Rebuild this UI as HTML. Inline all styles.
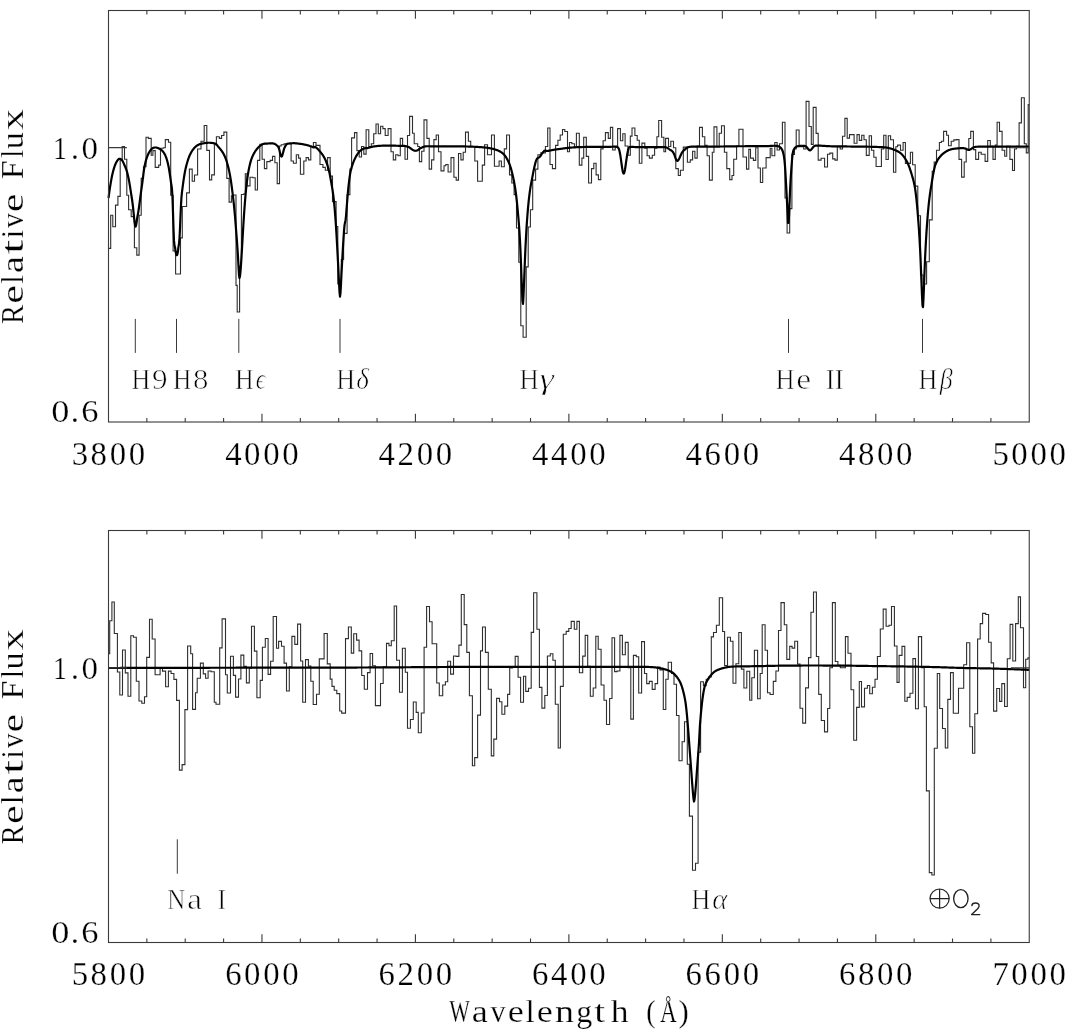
<!DOCTYPE html>
<html><head><meta charset="utf-8"><style>html,body{margin:0;padding:0;background:#fff;}svg{display:block;will-change:transform;}</style></head>
<body><svg width="1072" height="1036" viewBox="0 0 1072 1036">
<rect width="100%" height="100%" fill="#fff"/>
<path d="M108.5 248.4H110.7V215.3H112.8V226.8H115.5V205.1H117.9V196.4H120.2V160.0H122.2V146.5H124.5V159.3H126.8V195.2H128.6V209.7H131.2V216.6H134.4V247.7H136.8V255.1H139.1V215.3H141.2V178.4H143.5V166.8H146.0V137.3H148.3V138.4H151.2V155.2H152.9V150.6H155.2V167.4H158.7V165.1H160.5V148.3H163.3V147.7H165.3V139.6H168.5V142.3H170.7V195.2H173.1V251.0H175.6V274.0H180.5V237.9H182.3V206.5H186.6V192.9H189.4V169.1H192.2V181.3H194.5V175.0H197.6V149.0H201.0V141.2H204.2V125.5H206.8V150.4H209.5V179.9H211.7V174.9H214.4V144.8H216.4V136.7H219.3V138.4H221.6V135.5H223.9V132.1H226.8V178.4H229.1V202.1H231.4V195.8H233.7V195.0H236.0V285.4H237.2V312.0H239.6V266.3H241.4V194.5H243.6V194.0H245.3V173.8H247.1V185.9H250.0V177.2H252.9V177.8H255.2V190.0H257.5V160.4H259.8V144.2H262.1V159.3H264.4V168.6H266.8V161.6H270.2V160.4H272.5V156.4H274.9V162.8H277.2V183.6H279.5V146.0H281.2V144.8H284.1V143.7H291.1V161.0H293.4V163.3H296.3V154.7H298.6V158.1H300.4V174.3H303.8V161.0H306.1V157.6H308.5V159.9H310.8V146.5H313.4V142.5H316.0V145.4H320.0V164.5H322.9V167.4H325.3V170.3H327.6V157.6H330.2V176.1H332.5V201.6H336.1V226.5H337.8V284.0H341.3V259.5H343.6V233.4H347.1V194.6H349.9V169.1H351.6V137.9H354.5V132.6H356.9V150.6H359.2V157.0H361.5V146.5H363.8V154.1H366.1V129.8H368.8V146.5H371.3V143.7H373.7V133.8H376.0V124.0H378.3V133.8H380.6V126.3H382.9V128.6H385.2V135.5H388.1V128.6H391.0V151.8H393.3V159.9H395.7V154.7H398.0V155.8H400.3V138.4H402.6V146.0H405.0V159.3H407.5V135.5H409.6V116.4H412.5V133.2H414.2V143.7H417.7V146.5H419.4V161.6H421.7V151.2H424.0V119.9H426.9V138.4H429.2V169.1H431.6V159.9H433.9V139.6H436.2V135.0H438.5V151.8H441.0V170.9H444.0V165.7H445.8V164.5H448.1V172.0H451.0V157.6H453.9V177.2H456.2V180.1H458.5V153.5H460.9V159.9H463.2V152.3H465.5V132.1H468.4V141.3H470.7V146.5H474.8V161.0H477.6V181.3H482.3V165.1H484.6V144.8H487.5V154.7H491.5V135.0H494.4V166.2H499.1V161.0H501.4V166.8H504.3V148.9H506.6V135.0H509.5V174.9H511.8V183.0H514.1V194.6H516.5V228.0H518.8V262.2H520.8V325.7H523.1V337.2H526.2V266.9H528.2V227.0H530.4V209.7H532.7V180.1H535.6V169.1H537.9V154.7H540.8V152.9H545.4V146.5H547.7V128.0H550.0V164.5H552.4V168.6H555.6V145.4H557.9V140.2H560.2V135.0H562.5V129.5H564.8V131.5H567.5V151.8H569.5V142.5H571.8V143.7H574.5V147.1H576.4V133.2H579.3V165.1H581.9V158.1H583.7V137.3H586.3V156.4H588.6V183.0H591.5V168.6H593.8V163.3H596.1V174.9H598.4V179.6H600.8V148.9H603.1V140.8H605.4V132.6H608.3V138.4H610.4V127.4H612.7V150.0H615.2V147.1H617.6V128.6H620.4V140.8H622.8V133.8H625.1V146.0H628.0V155.2H630.3V136.1H632.0V128.0H634.9V135.5H637.2V140.2H639.3V163.3H641.9V143.1H644.8V148.3H647.1V155.8H649.4V158.1H652.3V155.2H654.6V148.3H656.9V136.7H658.7V120.5H661.6V137.3H663.9V151.8H665.6V138.4H668.5V146.5H670.8V141.3H673.5V147.7H675.8V168.6H678.3V175.5H680.4V170.3H683.3V147.1H687.4V162.2H690.3V159.9H692.6V151.2H694.9V158.1H697.2V146.0H699.5V127.4H702.4V136.7H704.8V145.4H707.1V155.8H709.4V180.1H712.3V152.3H714.0V126.9H716.9V146.5H719.2V133.2H721.5V125.7H724.4V152.3H726.8V168.6H729.7V179.6H732.0V175.5H733.7V159.3H736.6V146.0H738.9V129.2H743.0V157.0H746.5V169.1H748.8V149.4H750.5V158.1H753.4V160.4H755.7V147.7H758.0V168.0H760.4V182.5H762.7V168.0H766.1V157.6H770.2V148.3H771.9V155.8H774.8V142.5H777.1V150.0H779.5V143.7H782.4V122.3H785.0V198.0H787.1V233.0H789.7V208.6H791.9V154.4H794.5V149.0H796.2V130.0H799.1V146.8H803.7V149.0H806.1V101.4H809.0V126.5H811.3V144.4H813.2V107.4H816.1V133.4H818.2V160.1H821.1V158.3H824.6V167.0H827.5V154.3H829.8V153.1H832.7V158.9H835.0V160.1H837.3V146.8H840.2V149.0H842.5V136.3H844.9V118.4H847.2V138.1H849.5V134.6H854.1V143.3H857.0V134.6H859.3V140.4H861.7V135.2H864.0V139.8H866.3V155.4H869.2V135.8H871.5V150.2H873.8V157.2H876.1V166.5H881.4V149.0H883.7V135.2H886.0V159.5H888.3V135.8H890.6V139.8H893.5V172.2H895.8V146.8H897.6V145.1H900.5V150.3H903.1V142.5H905.4V163.4H910.4V152.3H912.6V164.7H915.2V186.1H917.8V215.8H920.5V275.0H923.2V284.0H926.6V261.8H929.3V219.9H932.2V171.2H934.2V162.0H936.5V150.3H939.4V142.5H941.4V141.2H943.6V131.4H946.6V135.3H948.5V145.7H951.2V141.2H953.8V139.9H956.4V139.6H959.0V159.4H961.6V177.1H964.2V162.0H966.2V149.6H968.8V138.5H970.7V131.4H973.4V149.6H975.7V159.4H978.6V152.3H981.2V154.2H985.1V161.4H987.7V140.5H990.3V146.4H993.0V159.4H995.3V145.1H997.1V122.2H999.5V131.4H1002.1V150.3H1004.7V156.2H1006.7V146.4H1009.9V159.4H1012.5V170.5H1014.5V149.0H1016.5V146.4H1019.1V122.9H1021.4V97.8H1024.3V143.8H1026.3V152.9H1028.2V104.6H1029.2" fill="none" stroke="#2e2e2e" stroke-width="1.1"/>
<path d="M108.5 198.00 109.0 194.35 109.5 190.71 110.0 187.30 110.5 184.23 111.0 181.38 111.5 178.60 112.0 176.04 112.5 173.74 113.0 171.68 113.5 169.85 114.0 168.17 114.5 166.62 115.0 165.22 115.5 163.98 116.0 162.89 116.5 161.96 117.0 161.12 117.5 160.37 118.0 159.74 118.5 159.25 119.0 158.92 119.5 158.76 120.0 158.78 120.5 158.96 121.0 159.27 121.5 159.70 122.0 160.21 122.5 160.93 123.0 161.86 123.5 162.93 124.0 164.08 124.5 165.26 125.0 166.38 125.5 167.50 126.0 168.76 126.5 170.19 127.0 171.81 127.5 173.64 128.0 175.70 128.5 178.02 129.0 180.56 129.5 183.36 130.0 186.40 130.5 189.70 131.0 192.94 131.5 196.02 132.0 199.23 132.5 202.80 133.0 206.96 133.5 211.88 134.0 216.97 134.5 221.54 135.0 224.94 135.5 226.60 136.0 225.71 136.5 222.86 137.0 219.27 137.5 216.29 138.0 213.58 138.5 210.57 139.0 207.26 139.5 203.63 140.0 199.72 140.5 195.88 141.0 192.19 141.5 188.60 142.0 185.02 142.5 181.27 143.0 177.26 143.5 173.27 144.0 169.59 144.5 166.51 145.0 164.15 145.5 162.10 146.0 160.27 146.5 158.63 147.0 157.16 147.5 155.85 148.0 154.66 148.5 153.59 149.0 152.62 149.5 151.75 150.0 150.97 150.5 150.27 151.0 149.65 151.5 149.10 152.0 148.64 152.5 148.27 153.0 148.00 153.5 147.79 154.0 147.66 154.5 147.57 155.0 147.52 155.5 147.50 156.0 147.51 156.5 147.59 157.0 147.72 157.5 147.89 158.0 148.10 158.5 148.34 159.0 148.60 159.5 148.87 160.0 149.14 160.5 149.41 161.0 149.72 161.5 150.09 162.0 150.52 162.5 151.02 163.0 151.60 163.5 152.26 164.0 153.01 164.5 153.86 165.0 154.80 165.5 155.87 166.0 157.09 166.5 158.49 167.0 160.08 167.5 161.90 168.0 163.97 168.5 166.32 169.0 169.00 169.5 171.99 170.0 175.28 170.5 178.93 171.0 182.57 171.5 185.49 172.0 189.62 172.5 197.92 173.0 212.60 173.5 228.77 174.0 240.90 174.5 245.62 175.0 247.14 175.5 250.55 176.0 253.62 176.5 255.07 177.0 255.13 177.5 253.86 178.0 250.70 178.5 246.61 179.0 243.71 179.5 238.30 180.0 228.25 180.5 216.17 181.0 204.88 181.5 196.88 182.0 191.85 182.5 188.17 183.0 184.39 183.5 180.64 184.0 177.30 184.5 174.29 185.0 171.53 185.5 169.11 186.0 166.97 186.5 165.03 187.0 163.20 187.5 161.46 188.0 159.85 188.5 158.37 189.0 157.01 189.5 155.78 190.0 154.67 190.5 153.65 191.0 152.71 191.5 151.83 192.0 151.01 192.5 150.25 193.0 149.56 193.5 148.92 194.0 148.33 194.5 147.78 195.0 147.26 195.5 146.78 196.0 146.33 196.5 145.92 197.0 145.56 197.5 145.23 198.0 144.95 198.5 144.70 199.0 144.48 199.5 144.29 200.0 144.11 200.5 143.96 201.0 143.82 201.5 143.70 202.0 143.59 202.5 143.49 203.0 143.40 203.5 143.31 204.0 143.23 204.5 143.15 205.0 143.08 205.5 143.01 206.0 142.95 206.5 142.89 207.0 142.84 207.5 142.80 208.0 142.77 208.5 142.75 209.0 142.74 209.5 142.75 210.0 142.77 210.5 142.80 211.0 142.84 211.5 142.89 212.0 142.94 212.5 143.01 213.0 143.09 213.5 143.19 214.0 143.31 214.5 143.45 215.0 143.63 215.5 143.85 216.0 144.10 216.5 144.49 217.0 145.05 217.5 145.71 218.0 146.38 218.5 147.00 219.0 147.57 219.5 148.14 220.0 148.73 220.5 149.33 221.0 149.97 221.5 150.63 222.0 151.34 222.5 152.10 223.0 152.91 223.5 153.78 224.0 154.73 224.5 155.76 225.0 156.89 225.5 158.12 226.0 159.47 226.5 160.94 227.0 162.53 227.5 164.25 228.0 166.11 228.5 168.13 229.0 170.31 229.5 172.67 230.0 175.31 230.5 178.21 231.0 181.38 231.5 184.82 232.0 188.53 232.5 192.52 233.0 196.67 233.5 201.02 234.0 205.68 234.5 210.78 235.0 216.39 235.5 222.60 236.0 228.97 236.5 235.29 237.0 241.90 237.5 248.99 238.0 256.85 238.5 266.42 239.0 274.74 239.5 278.02 240.0 276.09 240.5 271.35 241.0 264.69 241.5 256.83 242.0 248.35 242.5 239.57 243.0 230.88 243.5 222.59 244.0 214.90 244.5 207.83 245.0 201.30 245.5 195.35 246.0 189.96 246.5 185.14 247.0 180.88 247.5 177.17 248.0 173.96 248.5 171.07 249.0 168.47 249.5 166.13 250.0 164.01 250.5 162.10 251.0 160.39 251.5 158.88 252.0 157.54 252.5 156.34 253.0 155.26 253.5 154.28 254.0 153.37 254.5 152.52 255.0 151.70 255.5 150.93 256.0 150.21 256.5 149.54 257.0 148.92 257.5 148.35 258.0 147.81 258.5 147.30 259.0 146.82 259.5 146.36 260.0 145.93 260.5 145.52 261.0 145.14 261.5 144.80 262.0 144.50 262.5 144.26 263.0 144.06 263.5 143.91 264.0 143.79 264.5 143.71 265.0 143.65 265.5 143.61 266.0 143.58 266.5 143.56 267.0 143.55 267.5 143.53 268.0 143.51 268.5 143.48 269.0 143.45 269.5 143.42 270.0 143.40 270.5 143.39 271.0 143.38 271.5 143.38 272.0 143.40 272.5 143.42 273.0 143.46 273.5 143.53 274.0 143.66 274.5 143.85 275.0 144.09 275.5 144.37 276.0 144.70 276.5 145.11 277.0 145.53 277.5 145.92 278.0 146.47 278.5 147.36 279.0 148.72 279.5 150.56 280.0 152.64 280.5 154.59 281.0 156.02 281.5 156.60 282.0 156.14 282.5 154.80 283.0 152.92 283.5 150.87 284.0 149.08 284.5 147.73 285.0 146.72 285.5 145.86 286.0 144.99 286.5 144.37 287.0 143.96 287.5 143.72 288.0 143.59 288.5 143.52 289.0 143.50 289.5 143.49 290.0 143.46 290.5 143.43 291.0 143.38 291.5 143.33 292.0 143.28 292.5 143.24 293.0 143.21 293.5 143.19 294.0 143.19 294.5 143.22 295.0 143.25 295.5 143.29 296.0 143.33 296.5 143.38 297.0 143.43 297.5 143.48 298.0 143.54 298.5 143.60 299.0 143.67 299.5 143.73 300.0 143.80 300.5 143.87 301.0 143.94 301.5 144.02 302.0 144.10 302.5 144.18 303.0 144.27 303.5 144.36 304.0 144.46 304.5 144.56 305.0 144.66 305.5 144.77 306.0 144.88 306.5 145.00 307.0 145.12 307.5 145.25 308.0 145.39 308.5 145.54 309.0 145.69 309.5 145.85 310.0 146.02 310.5 146.20 311.0 146.38 311.5 146.57 312.0 146.76 312.5 146.96 313.0 147.16 313.5 147.37 314.0 147.49 314.5 147.02 315.0 146.80 315.5 147.12 316.0 147.48 316.5 147.88 317.0 148.32 317.5 148.80 318.0 149.30 318.5 149.83 319.0 150.39 319.5 150.96 320.0 151.54 320.5 152.14 321.0 152.74 321.5 153.37 322.0 154.03 322.5 154.73 323.0 155.47 323.5 156.26 324.0 157.11 324.5 158.02 325.0 159.01 325.5 160.08 326.0 161.24 326.5 162.52 327.0 163.92 327.5 165.45 328.0 167.12 328.5 168.93 329.0 170.90 329.5 173.10 330.0 175.55 330.5 178.21 331.0 181.04 331.5 183.99 332.0 186.92 332.5 189.93 333.0 193.25 333.5 197.12 334.0 201.73 334.5 206.97 335.0 212.84 335.5 219.43 336.0 226.76 336.5 234.80 337.0 243.47 337.5 252.65 338.0 262.10 338.5 271.51 339.0 282.22 339.5 291.96 340.0 296.56 340.5 292.81 341.0 283.69 341.5 273.35 342.0 264.24 342.5 255.24 343.0 246.57 343.5 238.50 344.0 231.20 344.5 225.37 345.0 222.62 345.5 220.46 346.0 216.06 346.5 209.93 347.0 203.43 347.5 197.05 348.0 191.28 348.5 186.48 349.0 182.12 349.5 178.12 350.0 174.63 350.5 171.81 351.0 169.68 351.5 167.81 352.0 166.11 352.5 164.56 353.0 163.14 353.5 161.84 354.0 160.63 354.5 159.51 355.0 158.47 355.5 157.47 356.0 156.54 356.5 155.66 357.0 154.83 357.5 154.05 358.0 153.33 358.5 152.66 359.0 152.05 359.5 151.49 360.0 151.00 360.5 150.55 361.0 150.15 361.5 149.79 362.0 149.47 362.5 149.19 363.0 148.94 363.5 148.71 364.0 148.52 364.5 148.35 365.0 148.20 365.5 148.12 366.0 148.14 366.5 148.18 367.0 148.18 367.5 148.10 368.0 147.95 368.5 147.80 369.0 147.66 369.5 147.52 370.0 147.38 370.5 147.24 371.0 147.11 371.5 146.99 372.0 146.86 372.5 146.75 373.0 146.64 373.5 146.54 374.0 146.45 374.5 146.36 375.0 146.29 375.5 146.22 376.0 146.16 376.5 146.10 377.0 146.05 377.5 146.00 378.0 145.95 378.5 145.91 379.0 145.88 379.5 145.84 380.0 145.81 380.5 145.79 381.0 145.76 381.5 145.74 382.0 145.72 382.5 145.70 383.0 145.68 383.5 145.66 384.0 145.65 384.5 145.64 385.0 145.63 385.5 145.62 386.0 145.61 386.5 145.61 387.0 145.61 387.5 145.60 388.0 145.60 388.5 145.60 389.0 145.60 389.5 145.60 390.0 145.60 390.5 145.60 391.0 145.61 391.5 145.61 392.0 145.62 392.5 145.63 393.0 145.65 393.5 145.66 394.0 145.68 394.5 145.69 395.0 145.71 395.5 145.72 396.0 145.74 396.5 145.75 397.0 145.76 397.5 145.77 398.0 145.78 398.5 145.79 399.0 145.80 399.5 145.80 400.0 145.80 400.5 145.80 401.0 145.80 401.5 145.80 402.0 145.80 402.5 145.81 403.0 145.82 403.5 145.84 404.0 145.88 404.5 145.93 405.0 145.99 405.5 146.09 406.0 146.21 406.5 146.36 407.0 146.52 407.5 146.68 408.0 146.85 408.5 147.06 409.0 147.29 409.5 147.57 410.0 147.89 410.5 148.25 411.0 148.63 411.5 149.01 412.0 149.36 412.5 149.69 413.0 149.98 413.5 150.23 414.0 150.44 414.5 150.60 415.0 150.72 415.5 150.78 416.0 150.75 416.5 150.66 417.0 150.48 417.5 150.24 418.0 149.94 418.5 149.59 419.0 149.20 419.5 148.82 420.0 148.47 420.5 148.17 421.0 147.90 421.5 147.66 422.0 147.45 422.5 147.26 423.0 147.06 423.5 146.86 424.0 146.68 424.5 146.53 425.0 146.42 425.5 146.34 426.0 146.29 426.5 146.25 427.0 146.24 427.5 146.23 428.0 146.24 428.5 146.24 429.0 146.26 429.5 146.27 430.0 146.28 430.5 146.29 431.0 146.30 431.5 146.31 432.0 146.31 432.5 146.32 433.0 146.32 433.5 146.32 434.0 146.32 434.5 146.32 435.0 146.32 435.5 146.32 436.0 146.32 436.5 146.31 437.0 146.31 437.5 146.31 438.0 146.31 438.5 146.30 439.0 146.30 439.5 146.30 440.0 146.30 440.5 146.30 441.0 146.30 441.5 146.30 442.0 146.30 442.5 146.30 443.0 146.30 443.5 146.30 444.0 146.30 444.5 146.30 445.0 146.30 445.5 146.30 446.0 146.30 446.5 146.31 447.0 146.31 447.5 146.31 448.0 146.31 448.5 146.31 449.0 146.31 449.5 146.31 450.0 146.31 450.5 146.31 451.0 146.32 451.5 146.32 452.0 146.32 452.5 146.32 453.0 146.32 453.5 146.33 454.0 146.33 454.5 146.33 455.0 146.34 455.5 146.34 456.0 146.34 456.5 146.35 457.0 146.35 457.5 146.36 458.0 146.36 458.5 146.36 459.0 146.37 459.5 146.38 460.0 146.38 460.5 146.39 461.0 146.39 461.5 146.40 462.0 146.41 462.5 146.42 463.0 146.42 463.5 146.43 464.0 146.44 464.5 146.45 465.0 146.46 465.5 146.47 466.0 146.48 466.5 146.49 467.0 146.51 467.5 146.52 468.0 146.53 468.5 146.55 469.0 146.56 469.5 146.58 470.0 146.59 470.5 146.61 471.0 146.63 471.5 146.64 472.0 146.66 472.5 146.68 473.0 146.71 473.5 146.73 474.0 146.75 474.5 146.77 475.0 146.80 475.5 146.83 476.0 146.85 476.5 146.88 477.0 146.91 477.5 146.94 478.0 146.96 478.5 146.99 479.0 147.03 479.5 147.06 480.0 147.09 480.5 147.13 481.0 147.16 481.5 147.20 482.0 147.24 482.5 147.28 483.0 147.32 483.5 147.37 484.0 147.42 484.5 147.47 485.0 147.52 485.5 147.58 486.0 147.64 486.5 147.70 487.0 147.76 487.5 147.83 488.0 147.91 488.5 147.98 489.0 148.06 489.5 148.15 490.0 148.24 490.5 148.34 491.0 148.44 491.5 148.54 492.0 148.66 492.5 148.77 493.0 148.90 493.5 149.02 494.0 149.16 494.5 149.29 495.0 149.44 495.5 149.59 496.0 149.75 496.5 149.92 497.0 150.10 497.5 150.29 498.0 150.49 498.5 150.71 499.0 150.95 499.5 151.20 500.0 151.47 500.5 151.76 501.0 152.07 501.5 152.40 502.0 152.76 502.5 153.15 503.0 153.57 503.5 154.04 504.0 154.57 504.5 155.15 505.0 155.78 505.5 156.47 506.0 157.22 506.5 158.02 507.0 158.88 507.5 159.81 508.0 160.80 508.5 161.86 509.0 162.99 509.5 164.19 510.0 165.50 510.5 166.99 511.0 168.65 511.5 170.46 512.0 172.42 512.5 174.52 513.0 176.75 513.5 179.10 514.0 181.59 514.5 184.25 515.0 187.20 515.5 190.48 516.0 194.15 516.5 198.26 517.0 202.88 517.5 208.10 518.0 213.55 518.5 219.12 519.0 225.27 519.5 232.45 520.0 241.07 520.5 251.50 521.0 263.82 521.5 277.29 522.0 290.47 522.5 301.10 523.0 303.82 523.5 295.58 524.0 283.78 524.5 270.95 525.0 258.47 525.5 247.12 526.0 237.11 526.5 228.36 527.0 220.74 527.5 214.05 528.0 208.10 528.5 202.80 529.0 198.15 529.5 194.04 530.0 190.41 530.5 187.16 531.0 184.24 531.5 181.58 532.0 178.98 532.5 176.37 533.0 173.77 533.5 171.24 534.0 168.80 534.5 166.51 535.0 164.40 535.5 162.53 536.0 160.95 536.5 159.70 537.0 158.83 537.5 158.26 538.0 157.89 538.5 157.63 539.0 157.39 539.5 157.08 540.0 156.60 540.5 155.96 541.0 155.25 541.5 154.50 542.0 153.74 542.5 152.99 543.0 152.28 543.5 151.65 544.0 151.12 544.5 150.74 545.0 150.57 545.5 150.59 546.0 150.73 546.5 150.89 547.0 151.01 547.5 151.00 548.0 150.90 548.5 150.80 549.0 150.70 549.5 150.60 550.0 150.50 550.5 150.40 551.0 150.31 551.5 150.21 552.0 150.12 552.5 150.02 553.0 149.93 553.5 149.84 554.0 149.75 554.5 149.67 555.0 149.58 555.5 149.51 556.0 149.43 556.5 149.36 557.0 149.29 557.5 149.23 558.0 149.17 558.5 149.11 559.0 149.05 559.5 148.98 560.0 148.92 560.5 148.86 561.0 148.80 561.5 148.73 562.0 148.66 562.5 148.59 563.0 148.51 563.5 148.44 564.0 148.37 564.5 148.30 565.0 148.24 565.5 148.18 566.0 148.12 566.5 148.06 567.0 148.00 567.5 147.94 568.0 147.89 568.5 147.84 569.0 147.79 569.5 147.74 570.0 147.69 570.5 147.65 571.0 147.60 571.5 147.56 572.0 147.52 572.5 147.48 573.0 147.45 573.5 147.42 574.0 147.38 574.5 147.35 575.0 147.32 575.5 147.29 576.0 147.27 576.5 147.24 577.0 147.21 577.5 147.19 578.0 147.17 578.5 147.15 579.0 147.12 579.5 147.11 580.0 147.09 580.5 147.07 581.0 147.06 581.5 147.04 582.0 147.03 582.5 147.02 583.0 147.01 583.5 146.99 584.0 146.99 584.5 146.98 585.0 146.97 585.5 146.96 586.0 146.95 586.5 146.95 587.0 146.94 587.5 146.94 588.0 146.93 588.5 146.93 589.0 146.92 589.5 146.92 590.0 146.92 590.5 146.91 591.0 146.91 591.5 146.91 592.0 146.90 592.5 146.90 593.0 146.90 593.5 146.89 594.0 146.89 594.5 146.89 595.0 146.89 595.5 146.90 596.0 146.90 596.5 146.90 597.0 146.90 597.5 146.91 598.0 146.91 598.5 146.91 599.0 146.92 599.5 146.92 600.0 146.92 600.5 146.93 601.0 146.93 601.5 146.93 602.0 146.93 602.5 146.93 603.0 146.93 603.5 146.93 604.0 146.93 604.5 146.93 605.0 146.93 605.5 146.92 606.0 146.92 606.5 146.91 607.0 146.90 607.5 146.89 608.0 146.88 608.5 146.87 609.0 146.86 609.5 146.84 610.0 146.82 610.5 146.81 611.0 146.78 611.5 146.76 612.0 146.74 612.5 146.71 613.0 146.68 613.5 146.65 614.0 146.62 614.5 146.59 615.0 146.56 615.5 146.54 616.0 146.56 616.5 146.62 617.0 146.78 617.5 147.08 618.0 147.60 618.5 148.26 619.0 149.25 619.5 151.00 620.0 153.43 620.5 156.41 621.0 159.85 621.5 163.50 622.0 167.06 622.5 170.15 623.0 172.40 623.5 173.51 624.0 173.34 624.5 171.92 625.0 169.45 625.5 166.23 626.0 162.64 626.5 159.04 627.0 155.73 627.5 152.90 628.0 150.50 628.5 148.60 629.0 147.53 629.5 147.06 630.0 146.96 630.5 147.00 631.0 147.00 631.5 146.94 632.0 146.93 632.5 146.94 633.0 146.95 633.5 146.97 634.0 146.99 634.5 147.01 635.0 147.03 635.5 147.04 636.0 147.05 636.5 147.06 637.0 147.07 637.5 147.08 638.0 147.09 638.5 147.09 639.0 147.09 639.5 147.10 640.0 147.10 640.5 147.10 641.0 147.10 641.5 147.11 642.0 147.11 642.5 147.11 643.0 147.11 643.5 147.11 644.0 147.11 644.5 147.11 645.0 147.12 645.5 147.12 646.0 147.12 646.5 147.12 647.0 147.12 647.5 147.12 648.0 147.12 648.5 147.12 649.0 147.12 649.5 147.12 650.0 147.12 650.5 147.12 651.0 147.11 651.5 147.11 652.0 147.11 652.5 147.11 653.0 147.11 653.5 147.11 654.0 147.10 654.5 147.10 655.0 147.10 655.5 147.10 656.0 147.09 656.5 147.09 657.0 147.09 657.5 147.08 658.0 147.08 658.5 147.07 659.0 147.07 659.5 147.06 660.0 147.06 660.5 147.06 661.0 147.05 661.5 147.05 662.0 147.05 662.5 147.06 663.0 147.07 663.5 147.08 664.0 147.11 664.5 147.15 665.0 147.21 665.5 147.29 666.0 147.40 666.5 147.54 667.0 147.72 667.5 147.95 668.0 148.23 668.5 148.58 669.0 149.00 669.5 149.40 670.0 149.72 670.5 150.00 671.0 150.28 671.5 150.61 672.0 151.01 672.5 151.51 673.0 152.15 673.5 152.94 674.0 153.93 674.5 155.22 675.0 156.67 675.5 158.11 676.0 159.38 676.5 160.33 677.0 160.80 677.5 160.81 678.0 160.49 678.5 159.88 679.0 159.03 679.5 158.02 680.0 156.88 680.5 155.71 681.0 154.55 681.5 153.49 682.0 152.59 682.5 151.84 683.0 151.21 683.5 150.68 684.0 150.23 684.5 149.80 685.0 149.38 685.5 148.90 686.0 148.45 686.5 148.07 687.0 147.76 687.5 147.50 688.0 147.29 688.5 147.13 689.0 146.99 689.5 146.89 690.0 146.80 690.5 146.73 691.0 146.68 691.5 146.65 692.0 146.62 692.5 146.60 693.0 146.59 693.5 146.59 694.0 146.58 694.5 146.58 695.0 146.58 695.5 146.58 696.0 146.58 696.5 146.59 697.0 146.59 697.5 146.59 698.0 146.59 698.5 146.59 699.0 146.60 699.5 146.60 700.0 146.60 700.5 146.60 701.0 146.60 701.5 146.60 702.0 146.60 702.5 146.61 703.0 146.61 703.5 146.61 704.0 146.61 704.5 146.61 705.0 146.61 705.5 146.61 706.0 146.61 706.5 146.61 707.0 146.61 707.5 146.61 708.0 146.61 708.5 146.61 709.0 146.61 709.5 146.61 710.0 146.60 710.5 146.60 711.0 146.60 711.5 146.60 712.0 146.60 712.5 146.60 713.0 146.60 713.5 146.60 714.0 146.59 714.5 146.59 715.0 146.59 715.5 146.58 716.0 146.58 716.5 146.57 717.0 146.57 717.5 146.56 718.0 146.56 718.5 146.55 719.0 146.54 719.5 146.54 720.0 146.53 720.5 146.52 721.0 146.52 721.5 146.51 722.0 146.50 722.5 146.49 723.0 146.48 723.5 146.48 724.0 146.47 724.5 146.46 725.0 146.45 725.5 146.44 726.0 146.43 726.5 146.42 727.0 146.42 727.5 146.41 728.0 146.40 728.5 146.39 729.0 146.38 729.5 146.37 730.0 146.37 730.5 146.36 731.0 146.35 731.5 146.34 732.0 146.34 732.5 146.33 733.0 146.32 733.5 146.32 734.0 146.31 734.5 146.30 735.0 146.30 735.5 146.29 736.0 146.29 736.5 146.28 737.0 146.28 737.5 146.27 738.0 146.27 738.5 146.27 739.0 146.26 739.5 146.26 740.0 146.25 740.5 146.25 741.0 146.25 741.5 146.24 742.0 146.24 742.5 146.24 743.0 146.24 743.5 146.23 744.0 146.23 744.5 146.23 745.0 146.23 745.5 146.22 746.0 146.22 746.5 146.22 747.0 146.22 747.5 146.22 748.0 146.21 748.5 146.21 749.0 146.21 749.5 146.21 750.0 146.21 750.5 146.21 751.0 146.20 751.5 146.20 752.0 146.20 752.5 146.20 753.0 146.20 753.5 146.20 754.0 146.20 754.5 146.20 755.0 146.19 755.5 146.19 756.0 146.19 756.5 146.19 757.0 146.19 757.5 146.19 758.0 146.19 758.5 146.19 759.0 146.19 759.5 146.19 760.0 146.19 760.5 146.19 761.0 146.19 761.5 146.19 762.0 146.19 762.5 146.19 763.0 146.19 763.5 146.19 764.0 146.20 764.5 146.20 765.0 146.20 765.5 146.20 766.0 146.18 766.5 146.17 767.0 146.15 767.5 146.12 768.0 146.10 768.5 146.07 769.0 146.03 769.5 146.00 770.0 145.96 770.5 145.93 771.0 145.89 771.5 145.86 772.0 145.83 772.5 145.80 773.0 145.78 773.5 145.76 774.0 145.75 774.5 145.75 775.0 145.76 775.5 145.78 776.0 145.82 776.5 145.87 777.0 145.95 777.5 146.05 778.0 146.18 778.5 146.34 779.0 146.55 779.5 146.82 780.0 147.15 780.5 147.56 781.0 148.08 781.5 148.74 782.0 149.58 782.5 150.67 783.0 152.16 783.5 154.17 784.0 156.88 784.5 160.54 785.0 166.16 785.5 173.81 786.0 183.10 786.5 192.42 787.0 201.83 787.5 211.90 788.0 222.91 788.5 222.85 789.0 216.16 789.5 204.19 790.0 191.74 790.5 181.75 791.0 173.93 791.5 166.84 792.0 160.28 792.5 155.00 793.0 151.86 793.5 150.17 794.0 149.10 794.5 148.38 795.0 147.80 795.5 147.29 796.0 146.92 796.5 146.63 797.0 146.42 797.5 146.27 798.0 146.15 798.5 146.07 799.0 146.00 799.5 145.96 800.0 145.92 800.5 145.90 801.0 145.87 801.5 145.85 802.0 145.82 802.5 145.80 803.0 145.78 803.5 145.79 804.0 145.82 804.5 145.89 805.0 146.02 805.5 146.23 806.0 146.53 806.5 146.95 807.0 147.48 807.5 148.10 808.0 148.75 808.5 149.37 809.0 149.89 809.5 150.23 810.0 150.34 810.5 150.20 811.0 149.83 811.5 149.28 812.0 148.64 812.5 147.96 813.0 147.33 813.5 146.79 814.0 146.35 814.5 146.03 815.0 145.81 815.5 145.68 816.0 145.60 816.5 145.56 817.0 145.54 817.5 145.55 818.0 145.56 818.5 145.58 819.0 145.60 819.5 145.63 820.0 145.65 820.5 145.68 821.0 145.71 821.5 145.74 822.0 145.77 822.5 145.81 823.0 145.84 823.5 145.87 824.0 145.91 824.5 145.94 825.0 145.97 825.5 146.00 826.0 146.03 826.5 146.06 827.0 146.09 827.5 146.12 828.0 146.15 828.5 146.18 829.0 146.20 829.5 146.22 830.0 146.24 830.5 146.26 831.0 146.27 831.5 146.29 832.0 146.30 832.5 146.30 833.0 146.31 833.5 146.32 834.0 146.32 834.5 146.33 835.0 146.33 835.5 146.34 836.0 146.35 836.5 146.35 837.0 146.36 837.5 146.36 838.0 146.37 838.5 146.37 839.0 146.38 839.5 146.39 840.0 146.39 840.5 146.40 841.0 146.40 841.5 146.41 842.0 146.41 842.5 146.42 843.0 146.42 843.5 146.43 844.0 146.44 844.5 146.44 845.0 146.45 845.5 146.45 846.0 146.46 846.5 146.47 847.0 146.47 847.5 146.48 848.0 146.49 848.5 146.49 849.0 146.50 849.5 146.51 850.0 146.52 850.5 146.52 851.0 146.53 851.5 146.54 852.0 146.55 852.5 146.56 853.0 146.57 853.5 146.58 854.0 146.59 854.5 146.60 855.0 146.61 855.5 146.62 856.0 146.62 856.5 146.63 857.0 146.64 857.5 146.65 858.0 146.65 858.5 146.66 859.0 146.66 859.5 146.67 860.0 146.67 860.5 146.67 861.0 146.68 861.5 146.68 862.0 146.68 862.5 146.69 863.0 146.69 863.5 146.69 864.0 146.70 864.5 146.70 865.0 146.70 865.5 146.70 866.0 146.71 866.5 146.71 867.0 146.72 867.5 146.72 868.0 146.73 868.5 146.73 869.0 146.74 869.5 146.75 870.0 146.76 870.5 146.77 871.0 146.78 871.5 146.79 872.0 146.80 872.5 146.81 873.0 146.83 873.5 146.84 874.0 146.86 874.5 146.88 875.0 146.90 875.5 146.92 876.0 146.94 876.5 146.96 877.0 146.97 877.5 146.99 878.0 147.00 878.5 147.01 879.0 147.03 879.5 147.05 880.0 147.06 880.5 147.08 881.0 147.10 881.5 147.13 882.0 147.15 882.5 147.18 883.0 147.22 883.5 147.25 884.0 147.30 884.5 147.35 885.0 147.40 885.5 147.46 886.0 147.53 886.5 147.60 887.0 147.68 887.5 147.77 888.0 147.87 888.5 147.98 889.0 148.10 889.5 148.23 890.0 148.36 890.5 148.50 891.0 148.65 891.5 148.80 892.0 148.96 892.5 149.13 893.0 149.30 893.5 149.48 894.0 149.67 894.5 149.86 895.0 150.07 895.5 150.28 896.0 150.50 896.5 150.74 897.0 150.98 897.5 151.24 898.0 151.51 898.5 151.79 899.0 152.09 899.5 152.40 900.0 152.74 900.5 153.11 901.0 153.53 901.5 154.00 902.0 154.51 902.5 155.06 903.0 155.65 903.5 156.29 904.0 156.96 904.5 157.67 905.0 158.42 905.5 159.20 906.0 160.03 906.5 160.89 907.0 161.81 907.5 162.82 908.0 163.92 908.5 165.10 909.0 166.37 909.5 167.71 910.0 169.12 910.5 170.60 911.0 172.14 911.5 173.76 912.0 175.44 912.5 177.15 913.0 178.91 913.5 180.81 914.0 182.93 914.5 185.36 915.0 188.18 915.5 191.51 916.0 195.42 916.5 199.90 917.0 204.95 917.5 210.58 918.0 216.80 918.5 223.42 919.0 230.48 919.5 238.37 920.0 247.43 920.5 257.92 921.0 269.93 921.5 282.90 922.0 295.50 922.5 305.56 923.0 307.10 923.5 298.08 924.0 285.71 924.5 272.56 925.0 260.20 925.5 249.37 926.0 239.98 926.5 231.83 927.0 224.64 927.5 218.07 928.0 211.98 928.5 206.59 929.0 201.82 929.5 197.58 930.0 193.79 930.5 190.38 931.0 187.30 931.5 184.32 932.0 181.30 932.5 178.29 933.0 175.36 933.5 172.58 934.0 170.02 934.5 167.76 935.0 165.88 935.5 164.45 936.0 163.26 936.5 162.17 937.0 161.18 937.5 160.28 938.0 159.45 938.5 158.69 939.0 157.98 939.5 157.33 940.0 156.72 940.5 156.15 941.0 155.61 941.5 155.10 942.0 154.61 942.5 154.16 943.0 153.72 943.5 153.31 944.0 152.93 944.5 152.56 945.0 152.21 945.5 151.89 946.0 151.58 946.5 151.28 947.0 151.01 947.5 150.75 948.0 150.50 948.5 150.27 949.0 150.06 949.5 149.86 950.0 149.67 950.5 149.50 951.0 149.35 951.5 149.22 952.0 149.11 952.5 149.01 953.0 148.92 953.5 148.85 954.0 148.78 954.5 148.72 955.0 148.66 955.5 148.61 956.0 148.56 956.5 148.51 957.0 148.46 957.5 148.40 958.0 148.35 958.5 148.30 959.0 148.26 959.5 148.23 960.0 148.20 960.5 148.17 961.0 148.15 961.5 148.13 962.0 148.12 962.5 148.12 963.0 148.13 963.5 148.16 964.0 148.22 964.5 148.30 965.0 148.43 965.5 148.60 966.0 148.81 966.5 149.05 967.0 149.31 967.5 149.55 968.0 149.75 968.5 149.89 969.0 149.94 969.5 149.87 970.0 149.55 970.5 149.30 971.0 149.00 971.5 148.68 972.0 148.34 972.5 148.02 973.0 147.73 973.5 147.47 974.0 147.26 974.5 147.09 975.0 146.97 975.5 146.88 976.0 146.81 976.5 146.77 977.0 146.75 977.5 146.73 978.0 146.72 978.5 146.71 979.0 146.71 979.5 146.71 980.0 146.71 980.5 146.71 981.0 146.71 981.5 146.71 982.0 146.71 982.5 146.71 983.0 146.71 983.5 146.71 984.0 146.71 984.5 146.71 985.0 146.71 985.5 146.71 986.0 146.71 986.5 146.71 987.0 146.70 987.5 146.70 988.0 146.69 988.5 146.69 989.0 146.69 989.5 146.68 990.0 146.68 990.5 146.67 991.0 146.67 991.5 146.67 992.0 146.66 992.5 146.66 993.0 146.65 993.5 146.65 994.0 146.65 994.5 146.64 995.0 146.64 995.5 146.64 996.0 146.63 996.5 146.63 997.0 146.63 997.5 146.62 998.0 146.62 998.5 146.62 999.0 146.62 999.5 146.61 1000.0 146.61 1000.5 146.61 1001.0 146.61 1001.5 146.61 1002.0 146.60 1002.5 146.60 1003.0 146.60 1003.5 146.60 1004.0 146.60 1004.5 146.60 1005.0 146.60 1005.5 146.60 1006.0 146.60 1006.5 146.60 1007.0 146.60 1007.5 146.60 1008.0 146.60 1008.5 146.60 1009.0 146.60 1009.5 146.60 1010.0 146.60 1010.5 146.60 1011.0 146.60 1011.5 146.61 1012.0 146.61 1012.5 146.61 1013.0 146.61 1013.5 146.61 1014.0 146.62 1014.5 146.62 1015.0 146.62 1015.5 146.62 1016.0 146.63 1016.5 146.63 1017.0 146.63 1017.5 146.64 1018.0 146.64 1018.5 146.64 1019.0 146.64 1019.5 146.65 1020.0 146.65 1020.5 146.65 1021.0 146.66 1021.5 146.66 1022.0 146.66 1022.5 146.67 1023.0 146.67 1023.5 146.67 1024.0 146.68 1024.5 146.68 1025.0 146.68 1025.5 146.69 1026.0 146.69 1026.5 146.69 1027.0 146.70 1027.5 146.70 1028.0 146.70 1028.5 146.71 1029.0 146.71" fill="none" stroke="#000" stroke-width="2.2" stroke-linejoin="round"/>
<rect x="108.5" y="10.5" width="920.75" height="411.50" fill="none" stroke="#3a3a3a" stroke-width="1.1"/>
<path d="M146.86 422.0V417.90M146.86 10.5V14.60M185.23 422.0V417.90M185.23 10.5V14.60M223.59 422.0V417.90M223.59 10.5V14.60M261.96 422.0V413.80M261.96 10.5V18.70M300.32 422.0V417.90M300.32 10.5V14.60M338.69 422.0V417.90M338.69 10.5V14.60M377.05 422.0V417.90M377.05 10.5V14.60M415.42 422.0V413.80M415.42 10.5V18.70M453.78 422.0V417.90M453.78 10.5V14.60M492.15 422.0V417.90M492.15 10.5V14.60M530.51 422.0V417.90M530.51 10.5V14.60M568.88 422.0V413.80M568.88 10.5V18.70M607.24 422.0V417.90M607.24 10.5V14.60M645.60 422.0V417.90M645.60 10.5V14.60M683.97 422.0V417.90M683.97 10.5V14.60M722.33 422.0V413.80M722.33 10.5V18.70M760.70 422.0V417.90M760.70 10.5V14.60M799.06 422.0V417.90M799.06 10.5V14.60M837.43 422.0V417.90M837.43 10.5V14.60M875.79 422.0V413.80M875.79 10.5V18.70M914.16 422.0V417.90M914.16 10.5V14.60M952.52 422.0V417.90M952.52 10.5V14.60M990.89 422.0V417.90M990.89 10.5V14.60M108.5 147.67H126.90M1029.25 147.67H1010.85" stroke="#3a3a3a" stroke-width="1.1" fill="none"/>
<text x="79.90" y="464.7" font-family="Liberation Serif, serif" stroke="#fff" stroke-width="0.25" font-size="32.8" text-anchor="middle">3</text>
<text x="98.80" y="464.7" font-family="Liberation Serif, serif" stroke="#fff" stroke-width="0.25" font-size="32.8" text-anchor="middle">8</text>
<text x="118.00" y="464.7" font-family="Liberation Serif, serif" stroke="#fff" stroke-width="0.25" font-size="32.8" text-anchor="middle">0</text>
<text x="137.00" y="464.7" font-family="Liberation Serif, serif" stroke="#fff" stroke-width="0.25" font-size="32.8" text-anchor="middle">0</text>
<text x="233.36" y="464.7" font-family="Liberation Serif, serif" stroke="#fff" stroke-width="0.25" font-size="32.8" text-anchor="middle">4</text>
<text x="252.26" y="464.7" font-family="Liberation Serif, serif" stroke="#fff" stroke-width="0.25" font-size="32.8" text-anchor="middle">0</text>
<text x="271.46" y="464.7" font-family="Liberation Serif, serif" stroke="#fff" stroke-width="0.25" font-size="32.8" text-anchor="middle">0</text>
<text x="290.46" y="464.7" font-family="Liberation Serif, serif" stroke="#fff" stroke-width="0.25" font-size="32.8" text-anchor="middle">0</text>
<text x="386.82" y="464.7" font-family="Liberation Serif, serif" stroke="#fff" stroke-width="0.25" font-size="32.8" text-anchor="middle">4</text>
<text x="405.72" y="464.7" font-family="Liberation Serif, serif" stroke="#fff" stroke-width="0.25" font-size="32.8" text-anchor="middle">2</text>
<text x="424.92" y="464.7" font-family="Liberation Serif, serif" stroke="#fff" stroke-width="0.25" font-size="32.8" text-anchor="middle">0</text>
<text x="443.92" y="464.7" font-family="Liberation Serif, serif" stroke="#fff" stroke-width="0.25" font-size="32.8" text-anchor="middle">0</text>
<text x="540.27" y="464.7" font-family="Liberation Serif, serif" stroke="#fff" stroke-width="0.25" font-size="32.8" text-anchor="middle">4</text>
<text x="559.17" y="464.7" font-family="Liberation Serif, serif" stroke="#fff" stroke-width="0.25" font-size="32.8" text-anchor="middle">4</text>
<text x="578.38" y="464.7" font-family="Liberation Serif, serif" stroke="#fff" stroke-width="0.25" font-size="32.8" text-anchor="middle">0</text>
<text x="597.38" y="464.7" font-family="Liberation Serif, serif" stroke="#fff" stroke-width="0.25" font-size="32.8" text-anchor="middle">0</text>
<text x="693.73" y="464.7" font-family="Liberation Serif, serif" stroke="#fff" stroke-width="0.25" font-size="32.8" text-anchor="middle">4</text>
<text x="712.63" y="464.7" font-family="Liberation Serif, serif" stroke="#fff" stroke-width="0.25" font-size="32.8" text-anchor="middle">6</text>
<text x="731.83" y="464.7" font-family="Liberation Serif, serif" stroke="#fff" stroke-width="0.25" font-size="32.8" text-anchor="middle">0</text>
<text x="750.83" y="464.7" font-family="Liberation Serif, serif" stroke="#fff" stroke-width="0.25" font-size="32.8" text-anchor="middle">0</text>
<text x="847.19" y="464.7" font-family="Liberation Serif, serif" stroke="#fff" stroke-width="0.25" font-size="32.8" text-anchor="middle">4</text>
<text x="866.09" y="464.7" font-family="Liberation Serif, serif" stroke="#fff" stroke-width="0.25" font-size="32.8" text-anchor="middle">8</text>
<text x="885.29" y="464.7" font-family="Liberation Serif, serif" stroke="#fff" stroke-width="0.25" font-size="32.8" text-anchor="middle">0</text>
<text x="904.29" y="464.7" font-family="Liberation Serif, serif" stroke="#fff" stroke-width="0.25" font-size="32.8" text-anchor="middle">0</text>
<text x="1000.65" y="464.7" font-family="Liberation Serif, serif" stroke="#fff" stroke-width="0.25" font-size="32.8" text-anchor="middle">5</text>
<text x="1019.55" y="464.7" font-family="Liberation Serif, serif" stroke="#fff" stroke-width="0.25" font-size="32.8" text-anchor="middle">0</text>
<text x="1038.75" y="464.7" font-family="Liberation Serif, serif" stroke="#fff" stroke-width="0.25" font-size="32.8" text-anchor="middle">0</text>
<text x="1057.75" y="464.7" font-family="Liberation Serif, serif" stroke="#fff" stroke-width="0.25" font-size="32.8" text-anchor="middle">0</text>
<text x="52.95" y="158.57" font-family="Liberation Serif, serif" stroke="#fff" stroke-width="0.25" font-size="31.5" textLength="13.92" lengthAdjust="spacingAndGlyphs">1</text>
<text x="71.04" y="158.57" font-family="Liberation Serif, serif" stroke="#fff" stroke-width="0.25" font-size="31.5" textLength="7.83" lengthAdjust="spacingAndGlyphs">.</text>
<text x="81.64" y="158.57" font-family="Liberation Serif, serif" stroke="#fff" stroke-width="0.25" font-size="31.5" textLength="16.52" lengthAdjust="spacingAndGlyphs">0</text>
<text x="51.32" y="422.00" font-family="Liberation Serif, serif" stroke="#fff" stroke-width="0.25" font-size="31.5" textLength="18.17" lengthAdjust="spacingAndGlyphs">0</text>
<text x="70.82" y="422.00" font-family="Liberation Serif, serif" stroke="#fff" stroke-width="0.25" font-size="31.5" textLength="8.25" lengthAdjust="spacingAndGlyphs">.</text>
<text x="81.32" y="422.00" font-family="Liberation Serif, serif" stroke="#fff" stroke-width="0.25" font-size="31.5" textLength="17.20" lengthAdjust="spacingAndGlyphs">6</text>
<g transform="translate(23.2,0) rotate(-90)" font-family="Liberation Serif, serif" stroke="#fff" stroke-width="0.25" font-size="31.5"><text x="-324.03" y="0" textLength="19.17" lengthAdjust="spacingAndGlyphs">R</text><text x="-303.74" y="0" textLength="18.59" lengthAdjust="spacingAndGlyphs">e</text><text x="-283.96" y="0" textLength="9.11" lengthAdjust="spacingAndGlyphs">l</text><text x="-272.93" y="0" textLength="16.85" lengthAdjust="spacingAndGlyphs">a</text><text x="-254.31" y="0" textLength="14.62" lengthAdjust="spacingAndGlyphs">t</text><text x="-238.34" y="0" textLength="8.41" lengthAdjust="spacingAndGlyphs">i</text><text x="-227.80" y="0" textLength="14.50" lengthAdjust="spacingAndGlyphs">v</text><text x="-212.15" y="0" textLength="18.71" lengthAdjust="spacingAndGlyphs">e</text><text x="-179.28" y="0" textLength="18.91" lengthAdjust="spacingAndGlyphs">F</text><text x="-157.76" y="0" textLength="7.83" lengthAdjust="spacingAndGlyphs">l</text><text x="-149.25" y="0" textLength="17.14" lengthAdjust="spacingAndGlyphs">u</text><text x="-130.38" y="0" textLength="21.50" lengthAdjust="spacingAndGlyphs">x</text></g>
<path d="M108.5 653.7H109.7V620.7H111.9V602.0H114.3V633.5H117.4V672.0H119.8V695.0H122.5V650.0H125.3V672.9H128.0V696.2H130.8V635.7H133.5V637.2H136.3V681.2H139.0V701.0H141.8V703.2H144.5V696.8H146.7V657.4H149.5V619.2H152.2V639.0H155.1V674.8H160.1V668.4H162.5V671.1H165.6V686.7H168.4V671.1H171.1V673.5H173.9V679.4H176.6V700.4H179.4V770.1H182.1V764.6H184.9V709.6H187.6V646.0H190.7V653.7H192.6V709.4H195.5V692.7H197.2V678.3H200.4V663.1H203.3V673.9H205.6V678.3H208.1V671.0H211.0V671.8H214.3V702.2H216.0V704.3H219.7V647.9H222.1V618.9H225.5V674.7H227.3V693.0H230.5V656.3H233.4V675.4H235.6V697.1H238.5V679.0H240.9V655.1H243.8V666.4H246.4V682.9H249.3V668.1H251.5V626.2H254.4V651.1H256.9V697.8H260.2V680.4H262.4V647.2H265.3V638.5H268.1V674.4H270.6V661.2H273.2V616.5H276.5V648.3H278.6V641.4H281.5V646.2H284.1V663.1H286.5V691.0H289.3V666.8H291.9V636.4H294.8V644.4H297.6V624.1H300.6V661.0H302.7V702.3H305.5V659.6H308.4V666.1H310.8V681.3H313.2V704.5H316.5V694.3H319.3V658.9H324.1V633.5H327.3V663.9H330.2V679.1H332.0V686.4H334.2V690.3H336.8V693.6H339.7V711.0H341.7V713.1H345.5V638.6H348.4V627.0H351.3V653.1H353.7V633.8H356.6V640.1H359.1V650.9H361.7V675.5H364.3V689.3H367.5V672.6H370.1V653.5H372.6V665.7H375.4V705.6H380.5V683.5H383.2V666.8H386.5V643.4H389.0V645.8H391.3V640.8H394.2V606.0H396.6V660.3H399.5V692.2H402.4V648.3H405.3V672.3H407.5V728.2H410.4V719.5H413.3V702.0H416.2V712.4H418.3V732.7H421.3V713.0H424.1V647.3H426.6V606.5H429.5V621.7H432.1V643.7H436.7V683.0H439.3V695.7H442.7V685.0H445.4V681.8H447.7V661.3H450.6V674.1H453.5V656.0H456.0V656.4H458.9V645.1H461.3V594.5H464.2V624.6H466.8V652.4H469.4V695.7H472.4V765.7H474.7V757.6H477.6V715.1H480.5V650.9H482.5V627.0H485.4V652.4H488.3V689.3H491.3V755.9H493.8V739.1H496.6V698.4H499.5V701.8H501.9V714.2H504.8V706.1H507.6V694.4H509.7V668.0H512.6V666.8H515.2V656.4H518.1V677.3H520.6V702.3H523.5V676.2H525.7V691.4H528.5V688.2H531.2V632.4H533.6V592.7H536.9V629.2H539.4V687.4H541.9V708.1H544.8V695.5H547.4V656.0H550.3V653.8H552.9V660.3H555.3V704.2H558.2V748.0H560.4V686.4H563.3V634.3H566.2V631.4H568.8V628.5H571.2V621.4H574.3V629.3H576.9V621.4H579.4V672.7H582.7V656.1H585.2V635.4H587.7V666.2H590.3V696.2H593.2V688.0H595.8V636.3H598.2V649.3H601.1V685.0H604.0V700.2H606.5V724.5H609.6V698.5H612.0V637.7H614.6V671.6H617.0V671.0H619.9V635.4H622.4V654.7H625.3V642.4H628.2V667.7H630.8V719.1H633.4V655.4H636.3V656.8H638.7V693.0H641.6V641.6H644.5V673.5H646.7V683.6H649.3V681.4H652.2V689.4H655.1V683.6H657.6V667.0H660.0V669.9H663.3V709.5H665.8V679.3H668.2V662.3H671.5V673.5H674.0V684.3H676.5V715.5H679.0V760.8H682.1V741.7H684.5V721.7H687.3V764.3H689.4V816.1H692.5V870.3H695.5V863.3H698.1V752.1H700.6V681.7H703.4V685.8H706.2V679.3H708.4V677.0H711.3V636.9H713.5V632.5H716.4V625.3H719.3V597.8H722.6V631.5H724.6V665.5H727.5V637.3H730.4V641.2H733.0V683.2H735.9V663.8H738.8V632.5H741.4V669.1H743.9V688.0H746.8V671.3H749.7V700.2H751.8V677.8H754.4V650.3H757.6V698.8H760.2V673.5H762.2V624.7H765.1V650.3H767.5V692.7H770.1V694.5H773.3V681.4H775.9V671.0H778.5V630.5H781.0V602.6H784.3V624.7H786.8V659.4H789.7V646.4H792.1V648.1H794.7V641.2H797.6V664.1H800.0V708.3H802.7V723.1H805.6V687.9H808.5V657.6H810.9V612.3H813.5V592.0H816.4V656.5H818.7V694.4H821.3V720.5H824.5V731.9H827.6V708.5H829.8V667.7H832.4V602.6H835.3V661.5H837.9V665.2H840.3V667.7H845.4V636.6H848.0V653.2H851.0V689.8H853.7V740.2H856.6V707.4H859.3V681.5H861.5V706.9H864.5V688.3H867.4V685.5H869.7V693.8H872.4V687.2H875.0V679.3H877.4V656.5H880.3V629.0H883.2V609.1H886.1V626.2H889.0V625.3H891.5V606.5H894.4V646.0H897.0V682.4H899.1V655.4H902.0V646.4H904.8V701.2H907.2V697.4H910.0V693.3H912.9V658.6H915.5V708.8H918.4V636.6H921.6V667.7H924.2V706.8H926.4V790.9H929.3V872.6H931.9V875.0H934.3V748.3H937.3V673.5H939.7V708.5H942.5V728.5H945.3V748.0H947.8V699.4H950.5V672.6H953.3V713.2H958.5V688.2H963.7V664.7H966.6V642.7H969.8V726.7H972.5V753.2H974.8V713.8H977.6V639.0H980.2V623.6H982.6V613.4H985.7V614.5H988.6V642.3H991.2V662.9H993.6V711.1H996.7V688.5H999.6V701.4H1001.8V683.6H1004.6V706.5H1007.3V658.8H1010.1V624.4H1012.8V661.0H1015.6V623.6H1018.3V596.9H1020.5V627.7H1023.5V687.8H1025.7V659.2H1027.9V657.9H1029.2" fill="none" stroke="#2e2e2e" stroke-width="1.1"/>
<path d="M108.5 668.00 109.0 668.00 109.5 668.00 110.0 668.00 110.5 668.00 111.0 667.99 111.5 667.99 112.0 667.99 112.5 667.99 113.0 667.99 113.5 667.99 114.0 667.99 114.5 667.99 115.0 667.99 115.5 667.99 116.0 667.98 116.5 667.98 117.0 667.98 117.5 667.98 118.0 667.98 118.5 667.98 119.0 667.98 119.5 667.98 120.0 667.98 120.5 667.97 121.0 667.97 121.5 667.97 122.0 667.97 122.5 667.97 123.0 667.97 123.5 667.97 124.0 667.97 124.5 667.97 125.0 667.97 125.5 667.96 126.0 667.96 126.5 667.96 127.0 667.96 127.5 667.96 128.0 667.96 128.5 667.96 129.0 667.96 129.5 667.96 130.0 667.95 130.5 667.95 131.0 667.95 131.5 667.95 132.0 667.95 132.5 667.95 133.0 667.95 133.5 667.95 134.0 667.95 134.5 667.95 135.0 667.94 135.5 667.94 136.0 667.94 136.5 667.94 137.0 667.94 137.5 667.94 138.0 667.94 138.5 667.94 139.0 667.94 139.5 667.93 140.0 667.93 140.5 667.93 141.0 667.93 141.5 667.93 142.0 667.93 142.5 667.93 143.0 667.93 143.5 667.93 144.0 667.92 144.5 667.92 145.0 667.92 145.5 667.92 146.0 667.92 146.5 667.92 147.0 667.92 147.5 667.92 148.0 667.92 148.5 667.91 149.0 667.91 149.5 667.91 150.0 667.91 150.5 667.91 151.0 667.91 151.5 667.91 152.0 667.91 152.5 667.90 153.0 667.90 153.5 667.90 154.0 667.90 154.5 667.90 155.0 667.90 155.5 667.90 156.0 667.90 156.5 667.90 157.0 667.89 157.5 667.89 158.0 667.89 158.5 667.89 159.0 667.89 159.5 667.89 160.0 667.89 160.5 667.89 161.0 667.89 161.5 667.88 162.0 667.88 162.5 667.88 163.0 667.88 163.5 667.88 164.0 667.88 164.5 667.88 165.0 667.88 165.5 667.88 166.0 667.87 166.5 667.87 167.0 667.87 167.5 667.87 168.0 667.87 168.5 667.87 169.0 667.87 169.5 667.87 170.0 667.86 170.5 667.86 171.0 667.86 171.5 667.86 172.0 667.86 172.5 667.86 173.0 667.86 173.5 667.86 174.0 667.86 174.5 667.85 175.0 667.85 175.5 667.85 176.0 667.85 176.5 667.85 177.0 667.85 177.5 667.85 178.0 667.85 178.5 667.85 179.0 667.84 179.5 667.84 180.0 667.84 180.5 667.84 181.0 667.84 181.5 667.84 182.0 667.84 182.5 667.84 183.0 667.84 183.5 667.83 184.0 667.83 184.5 667.83 185.0 667.83 185.5 667.83 186.0 667.83 186.5 667.83 187.0 667.83 187.5 667.82 188.0 667.82 188.5 667.82 189.0 667.82 189.5 667.82 190.0 667.82 190.5 667.82 191.0 667.82 191.5 667.82 192.0 667.81 192.5 667.81 193.0 667.81 193.5 667.81 194.0 667.81 194.5 667.81 195.0 667.81 195.5 667.81 196.0 667.81 196.5 667.80 197.0 667.80 197.5 667.80 198.0 667.80 198.5 667.80 199.0 667.80 199.5 667.80 200.0 667.80 200.5 667.80 201.0 667.80 201.5 667.79 202.0 667.79 202.5 667.79 203.0 667.79 203.5 667.79 204.0 667.79 204.5 667.79 205.0 667.79 205.5 667.79 206.0 667.78 206.5 667.78 207.0 667.78 207.5 667.78 208.0 667.78 208.5 667.78 209.0 667.78 209.5 667.78 210.0 667.78 210.5 667.77 211.0 667.77 211.5 667.77 212.0 667.77 212.5 667.77 213.0 667.77 213.5 667.77 214.0 667.77 214.5 667.77 215.0 667.77 215.5 667.76 216.0 667.76 216.5 667.76 217.0 667.76 217.5 667.76 218.0 667.76 218.5 667.76 219.0 667.76 219.5 667.76 220.0 667.76 220.5 667.75 221.0 667.75 221.5 667.75 222.0 667.75 222.5 667.75 223.0 667.75 223.5 667.75 224.0 667.75 224.5 667.75 225.0 667.75 225.5 667.74 226.0 667.74 226.5 667.74 227.0 667.74 227.5 667.74 228.0 667.74 228.5 667.74 229.0 667.74 229.5 667.74 230.0 667.74 230.5 667.73 231.0 667.73 231.5 667.73 232.0 667.73 232.5 667.73 233.0 667.73 233.5 667.73 234.0 667.73 234.5 667.73 235.0 667.73 235.5 667.73 236.0 667.72 236.5 667.72 237.0 667.72 237.5 667.72 238.0 667.72 238.5 667.72 239.0 667.72 239.5 667.72 240.0 667.72 240.5 667.72 241.0 667.72 241.5 667.71 242.0 667.71 242.5 667.71 243.0 667.71 243.5 667.71 244.0 667.71 244.5 667.71 245.0 667.71 245.5 667.71 246.0 667.71 246.5 667.71 247.0 667.70 247.5 667.70 248.0 667.70 248.5 667.70 249.0 667.70 249.5 667.70 250.0 667.70 250.5 667.70 251.0 667.70 251.5 667.70 252.0 667.70 252.5 667.70 253.0 667.70 253.5 667.70 254.0 667.70 254.5 667.69 255.0 667.69 255.5 667.69 256.0 667.69 256.5 667.69 257.0 667.69 257.5 667.69 258.0 667.69 258.5 667.69 259.0 667.69 259.5 667.69 260.0 667.69 260.5 667.69 261.0 667.69 261.5 667.69 262.0 667.69 262.5 667.69 263.0 667.69 263.5 667.69 264.0 667.69 264.5 667.69 265.0 667.69 265.5 667.69 266.0 667.69 266.5 667.69 267.0 667.69 267.5 667.69 268.0 667.69 268.5 667.70 269.0 667.70 269.5 667.70 270.0 667.70 270.5 667.70 271.0 667.70 271.5 667.70 272.0 667.70 272.5 667.70 273.0 667.70 273.5 667.70 274.0 667.70 274.5 667.70 275.0 667.70 275.5 667.70 276.0 667.70 276.5 667.70 277.0 667.70 277.5 667.70 278.0 667.70 278.5 667.70 279.0 667.70 279.5 667.70 280.0 667.70 280.5 667.70 281.0 667.70 281.5 667.71 282.0 667.71 282.5 667.71 283.0 667.71 283.5 667.71 284.0 667.71 284.5 667.71 285.0 667.71 285.5 667.71 286.0 667.71 286.5 667.71 287.0 667.71 287.5 667.71 288.0 667.71 288.5 667.71 289.0 667.71 289.5 667.71 290.0 667.71 290.5 667.71 291.0 667.71 291.5 667.71 292.0 667.71 292.5 667.71 293.0 667.71 293.5 667.71 294.0 667.71 294.5 667.71 295.0 667.71 295.5 667.71 296.0 667.71 296.5 667.70 297.0 667.70 297.5 667.70 298.0 667.70 298.5 667.70 299.0 667.70 299.5 667.70 300.0 667.70 300.5 667.70 301.0 667.70 301.5 667.70 302.0 667.70 302.5 667.70 303.0 667.69 303.5 667.69 304.0 667.69 304.5 667.69 305.0 667.69 305.5 667.69 306.0 667.69 306.5 667.69 307.0 667.69 307.5 667.69 308.0 667.69 308.5 667.68 309.0 667.68 309.5 667.68 310.0 667.68 310.5 667.68 311.0 667.68 311.5 667.68 312.0 667.68 312.5 667.68 313.0 667.67 313.5 667.67 314.0 667.67 314.5 667.67 315.0 667.67 315.5 667.67 316.0 667.67 316.5 667.67 317.0 667.66 317.5 667.66 318.0 667.66 318.5 667.66 319.0 667.66 319.5 667.66 320.0 667.66 320.5 667.66 321.0 667.65 321.5 667.65 322.0 667.65 322.5 667.65 323.0 667.65 323.5 667.65 324.0 667.65 324.5 667.64 325.0 667.64 325.5 667.64 326.0 667.64 326.5 667.64 327.0 667.64 327.5 667.64 328.0 667.63 328.5 667.63 329.0 667.63 329.5 667.63 330.0 667.63 330.5 667.63 331.0 667.62 331.5 667.62 332.0 667.62 332.5 667.62 333.0 667.62 333.5 667.62 334.0 667.62 334.5 667.61 335.0 667.61 335.5 667.61 336.0 667.61 336.5 667.61 337.0 667.60 337.5 667.60 338.0 667.60 338.5 667.60 339.0 667.60 339.5 667.60 340.0 667.59 340.5 667.59 341.0 667.59 341.5 667.59 342.0 667.59 342.5 667.59 343.0 667.58 343.5 667.58 344.0 667.58 344.5 667.58 345.0 667.58 345.5 667.57 346.0 667.57 346.5 667.57 347.0 667.57 347.5 667.57 348.0 667.56 348.5 667.56 349.0 667.56 349.5 667.56 350.0 667.56 350.5 667.55 351.0 667.55 351.5 667.55 352.0 667.55 352.5 667.55 353.0 667.54 353.5 667.54 354.0 667.54 354.5 667.54 355.0 667.54 355.5 667.53 356.0 667.53 356.5 667.53 357.0 667.53 357.5 667.52 358.0 667.52 358.5 667.52 359.0 667.52 359.5 667.52 360.0 667.51 360.5 667.51 361.0 667.51 361.5 667.51 362.0 667.50 362.5 667.50 363.0 667.50 363.5 667.50 364.0 667.49 364.5 667.49 365.0 667.49 365.5 667.49 366.0 667.49 366.5 667.48 367.0 667.48 367.5 667.48 368.0 667.48 368.5 667.47 369.0 667.47 369.5 667.47 370.0 667.47 370.5 667.46 371.0 667.46 371.5 667.46 372.0 667.46 372.5 667.45 373.0 667.45 373.5 667.45 374.0 667.45 374.5 667.44 375.0 667.44 375.5 667.44 376.0 667.44 376.5 667.43 377.0 667.43 377.5 667.43 378.0 667.43 378.5 667.42 379.0 667.42 379.5 667.42 380.0 667.41 380.5 667.41 381.0 667.41 381.5 667.41 382.0 667.40 382.5 667.40 383.0 667.40 383.5 667.40 384.0 667.39 384.5 667.39 385.0 667.39 385.5 667.38 386.0 667.38 386.5 667.38 387.0 667.38 387.5 667.37 388.0 667.37 388.5 667.37 389.0 667.36 389.5 667.36 390.0 667.36 390.5 667.36 391.0 667.35 391.5 667.35 392.0 667.35 392.5 667.34 393.0 667.34 393.5 667.34 394.0 667.34 394.5 667.33 395.0 667.33 395.5 667.33 396.0 667.32 396.5 667.32 397.0 667.32 397.5 667.32 398.0 667.31 398.5 667.31 399.0 667.31 399.5 667.30 400.0 667.30 400.5 667.30 401.0 667.29 401.5 667.29 402.0 667.29 402.5 667.28 403.0 667.28 403.5 667.28 404.0 667.27 404.5 667.27 405.0 667.27 405.5 667.27 406.0 667.26 406.5 667.26 407.0 667.26 407.5 667.25 408.0 667.25 408.5 667.25 409.0 667.24 409.5 667.24 410.0 667.23 410.5 667.23 411.0 667.23 411.5 667.22 412.0 667.22 412.5 667.22 413.0 667.21 413.5 667.21 414.0 667.21 414.5 667.20 415.0 667.20 415.5 667.20 416.0 667.19 416.5 667.19 417.0 667.19 417.5 667.18 418.0 667.18 418.5 667.17 419.0 667.17 419.5 667.17 420.0 667.16 420.5 667.16 421.0 667.16 421.5 667.15 422.0 667.15 422.5 667.15 423.0 667.14 423.5 667.14 424.0 667.13 424.5 667.13 425.0 667.13 425.5 667.12 426.0 667.12 426.5 667.12 427.0 667.11 427.5 667.11 428.0 667.11 428.5 667.10 429.0 667.10 429.5 667.09 430.0 667.09 430.5 667.09 431.0 667.08 431.5 667.08 432.0 667.08 432.5 667.07 433.0 667.07 433.5 667.07 434.0 667.06 434.5 667.06 435.0 667.06 435.5 667.05 436.0 667.05 436.5 667.04 437.0 667.04 437.5 667.04 438.0 667.03 438.5 667.03 439.0 667.03 439.5 667.02 440.0 667.02 440.5 667.02 441.0 667.01 441.5 667.01 442.0 667.01 442.5 667.00 443.0 667.00 443.5 667.00 444.0 666.99 444.5 666.99 445.0 666.99 445.5 666.98 446.0 666.98 446.5 666.98 447.0 666.97 447.5 666.97 448.0 666.97 448.5 666.96 449.0 666.96 449.5 666.96 450.0 666.96 450.5 666.95 451.0 666.95 451.5 666.95 452.0 666.94 452.5 666.94 453.0 666.94 453.5 666.93 454.0 666.93 454.5 666.93 455.0 666.93 455.5 666.92 456.0 666.92 456.5 666.92 457.0 666.92 457.5 666.91 458.0 666.91 458.5 666.91 459.0 666.90 459.5 666.90 460.0 666.90 460.5 666.90 461.0 666.90 461.5 666.89 462.0 666.89 462.5 666.89 463.0 666.89 463.5 666.89 464.0 666.88 464.5 666.88 465.0 666.88 465.5 666.88 466.0 666.88 466.5 666.88 467.0 666.88 467.5 666.88 468.0 666.88 468.5 666.88 469.0 666.88 469.5 666.88 470.0 666.88 470.5 666.88 471.0 666.88 471.5 666.88 472.0 666.88 472.5 666.88 473.0 666.88 473.5 666.88 474.0 666.88 474.5 666.88 475.0 666.88 475.5 666.88 476.0 666.88 476.5 666.88 477.0 666.88 477.5 666.88 478.0 666.88 478.5 666.88 479.0 666.88 479.5 666.88 480.0 666.89 480.5 666.89 481.0 666.89 481.5 666.89 482.0 666.89 482.5 666.89 483.0 666.89 483.5 666.89 484.0 666.89 484.5 666.89 485.0 666.89 485.5 666.89 486.0 666.90 486.5 666.90 487.0 666.90 487.5 666.90 488.0 666.90 488.5 666.90 489.0 666.90 489.5 666.90 490.0 666.90 490.5 666.90 491.0 666.90 491.5 666.90 492.0 666.90 492.5 666.90 493.0 666.90 493.5 666.90 494.0 666.90 494.5 666.90 495.0 666.90 495.5 666.90 496.0 666.90 496.5 666.90 497.0 666.90 497.5 666.90 498.0 666.90 498.5 666.90 499.0 666.90 499.5 666.90 500.0 666.90 500.5 666.90 501.0 666.90 501.5 666.90 502.0 666.90 502.5 666.90 503.0 666.89 503.5 666.89 504.0 666.89 504.5 666.89 505.0 666.89 505.5 666.89 506.0 666.89 506.5 666.89 507.0 666.89 507.5 666.89 508.0 666.89 508.5 666.89 509.0 666.89 509.5 666.89 510.0 666.89 510.5 666.88 511.0 666.88 511.5 666.88 512.0 666.88 512.5 666.88 513.0 666.88 513.5 666.88 514.0 666.88 514.5 666.88 515.0 666.88 515.5 666.88 516.0 666.88 516.5 666.88 517.0 666.88 517.5 666.88 518.0 666.88 518.5 666.88 519.0 666.88 519.5 666.88 520.0 666.88 520.5 666.88 521.0 666.88 521.5 666.88 522.0 666.88 522.5 666.88 523.0 666.88 523.5 666.88 524.0 666.88 524.5 666.88 525.0 666.88 525.5 666.88 526.0 666.88 526.5 666.87 527.0 666.87 527.5 666.87 528.0 666.87 528.5 666.87 529.0 666.87 529.5 666.87 530.0 666.87 530.5 666.87 531.0 666.87 531.5 666.87 532.0 666.87 532.5 666.87 533.0 666.87 533.5 666.87 534.0 666.87 534.5 666.87 535.0 666.87 535.5 666.87 536.0 666.87 536.5 666.87 537.0 666.87 537.5 666.87 538.0 666.87 538.5 666.87 539.0 666.87 539.5 666.87 540.0 666.87 540.5 666.87 541.0 666.87 541.5 666.87 542.0 666.87 542.5 666.87 543.0 666.87 543.5 666.87 544.0 666.87 544.5 666.87 545.0 666.87 545.5 666.87 546.0 666.87 546.5 666.87 547.0 666.87 547.5 666.87 548.0 666.87 548.5 666.87 549.0 666.87 549.5 666.87 550.0 666.87 550.5 666.87 551.0 666.87 551.5 666.87 552.0 666.87 552.5 666.87 553.0 666.87 553.5 666.87 554.0 666.87 554.5 666.87 555.0 666.87 555.5 666.87 556.0 666.87 556.5 666.87 557.0 666.87 557.5 666.87 558.0 666.87 558.5 666.87 559.0 666.87 559.5 666.87 560.0 666.87 560.5 666.87 561.0 666.87 561.5 666.86 562.0 666.86 562.5 666.86 563.0 666.86 563.5 666.86 564.0 666.86 564.5 666.86 565.0 666.86 565.5 666.86 566.0 666.86 566.5 666.86 567.0 666.86 567.5 666.86 568.0 666.86 568.5 666.86 569.0 666.86 569.5 666.86 570.0 666.86 570.5 666.86 571.0 666.86 571.5 666.86 572.0 666.86 572.5 666.86 573.0 666.86 573.5 666.86 574.0 666.86 574.5 666.86 575.0 666.85 575.5 666.85 576.0 666.85 576.5 666.85 577.0 666.85 577.5 666.85 578.0 666.85 578.5 666.85 579.0 666.85 579.5 666.85 580.0 666.85 580.5 666.85 581.0 666.85 581.5 666.85 582.0 666.85 582.5 666.85 583.0 666.85 583.5 666.85 584.0 666.84 584.5 666.84 585.0 666.84 585.5 666.84 586.0 666.84 586.5 666.84 587.0 666.84 587.5 666.84 588.0 666.84 588.5 666.84 589.0 666.84 589.5 666.83 590.0 666.83 590.5 666.83 591.0 666.83 591.5 666.83 592.0 666.83 592.5 666.83 593.0 666.83 593.5 666.83 594.0 666.83 594.5 666.82 595.0 666.82 595.5 666.82 596.0 666.82 596.5 666.82 597.0 666.82 597.5 666.82 598.0 666.82 598.5 666.82 599.0 666.82 599.5 666.82 600.0 666.81 600.5 666.81 601.0 666.81 601.5 666.81 602.0 666.81 602.5 666.81 603.0 666.81 603.5 666.81 604.0 666.81 604.5 666.81 605.0 666.81 605.5 666.81 606.0 666.81 606.5 666.81 607.0 666.81 607.5 666.81 608.0 666.81 608.5 666.81 609.0 666.81 609.5 666.81 610.0 666.81 610.5 666.81 611.0 666.81 611.5 666.81 612.0 666.81 612.5 666.82 613.0 666.82 613.5 666.82 614.0 666.82 614.5 666.82 615.0 666.82 615.5 666.83 616.0 666.83 616.5 666.83 617.0 666.83 617.5 666.83 618.0 666.84 618.5 666.84 619.0 666.84 619.5 666.85 620.0 666.85 620.5 666.85 621.0 666.86 621.5 666.86 622.0 666.86 622.5 666.86 623.0 666.86 623.5 666.86 624.0 666.87 624.5 666.87 625.0 666.87 625.5 666.87 626.0 666.87 626.5 666.86 627.0 666.86 627.5 666.86 628.0 666.86 628.5 666.86 629.0 666.86 629.5 666.86 630.0 666.86 630.5 666.86 631.0 666.86 631.5 666.86 632.0 666.86 632.5 666.86 633.0 666.86 633.5 666.86 634.0 666.86 634.5 666.86 635.0 666.86 635.5 666.86 636.0 666.86 636.5 666.87 637.0 666.87 637.5 666.87 638.0 666.88 638.5 666.88 639.0 666.89 639.5 666.89 640.0 666.90 640.5 666.91 641.0 666.91 641.5 666.92 642.0 666.92 642.5 666.92 643.0 666.92 643.5 666.92 644.0 666.92 644.5 666.92 645.0 666.93 645.5 666.93 646.0 666.93 646.5 666.93 647.0 666.94 647.5 666.95 648.0 666.95 648.5 666.96 649.0 666.98 649.5 666.99 650.0 667.01 650.5 667.03 651.0 667.06 651.5 667.08 652.0 667.12 652.5 667.15 653.0 667.19 653.5 667.24 654.0 667.29 654.5 667.34 655.0 667.40 655.5 667.46 656.0 667.53 656.5 667.60 657.0 667.67 657.5 667.74 658.0 667.82 658.5 667.90 659.0 667.98 659.5 668.07 660.0 668.16 660.5 668.26 661.0 668.36 661.5 668.46 662.0 668.57 662.5 668.68 663.0 668.80 663.5 668.93 664.0 669.06 664.5 669.19 665.0 669.34 665.5 669.48 666.0 669.64 666.5 669.80 667.0 669.97 667.5 670.15 668.0 670.33 668.5 670.53 669.0 670.73 669.5 670.95 670.0 671.17 670.5 671.40 671.0 671.65 671.5 671.93 672.0 672.24 672.5 672.60 673.0 672.98 673.5 673.40 674.0 673.86 674.5 674.34 675.0 674.85 675.5 675.39 676.0 675.95 676.5 676.55 677.0 677.17 677.5 677.83 678.0 678.52 678.5 679.25 679.0 680.04 679.5 680.92 680.0 681.90 680.5 682.99 681.0 684.19 681.5 685.52 682.0 687.00 682.5 688.65 683.0 690.49 683.5 692.53 684.0 694.61 684.5 696.84 685.0 699.39 685.5 702.43 686.0 706.12 686.5 710.58 687.0 715.70 687.5 721.37 688.0 727.47 688.5 733.88 689.0 740.57 689.5 747.43 690.0 754.00 690.5 760.65 691.0 767.23 691.5 774.00 692.0 780.97 692.5 787.49 693.0 793.48 693.5 798.70 694.0 801.54 694.5 799.71 695.0 795.43 695.5 789.89 696.0 783.68 696.5 776.85 697.0 769.84 697.5 763.28 698.0 756.64 698.5 750.13 699.0 743.16 699.5 733.22 700.0 724.29 700.5 718.22 701.0 712.63 701.5 707.54 702.0 702.96 702.5 698.87 703.0 695.26 703.5 692.09 704.0 689.45 704.5 687.29 705.0 685.53 705.5 684.10 706.0 682.92 706.5 681.93 707.0 681.05 707.5 680.23 708.0 679.40 708.5 678.58 709.0 677.82 709.5 677.10 710.0 676.41 710.5 675.77 711.0 675.15 711.5 674.56 712.0 674.00 712.5 673.47 713.0 672.97 713.5 672.50 714.0 672.07 714.5 671.67 715.0 671.32 715.5 671.01 716.0 670.74 716.5 670.49 717.0 670.25 717.5 670.03 718.0 669.81 718.5 669.60 719.0 669.41 719.5 669.22 720.0 669.04 720.5 668.87 721.0 668.71 721.5 668.55 722.0 668.40 722.5 668.26 723.0 668.12 723.5 667.99 724.0 667.86 724.5 667.74 725.0 667.62 725.5 667.51 726.0 667.40 726.5 667.30 727.0 667.20 727.5 667.11 728.0 667.03 728.5 666.96 729.0 666.89 729.5 666.83 730.0 666.77 730.5 666.72 731.0 666.68 731.5 666.64 732.0 666.61 732.5 666.58 733.0 666.55 733.5 666.53 734.0 666.51 734.5 666.50 735.0 666.49 735.5 666.48 736.0 666.47 736.5 666.46 737.0 666.46 737.5 666.46 738.0 666.46 738.5 666.46 739.0 666.46 739.5 666.46 740.0 666.46 740.5 666.46 741.0 666.46 741.5 666.45 742.0 666.45 742.5 666.45 743.0 666.44 743.5 666.44 744.0 666.43 744.5 666.41 745.0 666.40 745.5 666.38 746.0 666.37 746.5 666.36 747.0 666.34 747.5 666.33 748.0 666.32 748.5 666.31 749.0 666.30 749.5 666.29 750.0 666.28 750.5 666.27 751.0 666.26 751.5 666.25 752.0 666.24 752.5 666.23 753.0 666.22 753.5 666.21 754.0 666.21 754.5 666.20 755.0 666.19 755.5 666.18 756.0 666.18 756.5 666.17 757.0 666.16 757.5 666.15 758.0 666.14 758.5 666.14 759.0 666.13 759.5 666.12 760.0 666.11 760.5 666.10 761.0 666.09 761.5 666.08 762.0 666.07 762.5 666.06 763.0 666.05 763.5 666.04 764.0 666.03 764.5 666.01 765.0 666.00 765.5 665.99 766.0 665.97 766.5 665.96 767.0 665.95 767.5 665.94 768.0 665.92 768.5 665.91 769.0 665.90 769.5 665.89 770.0 665.88 770.5 665.87 771.0 665.86 771.5 665.85 772.0 665.84 772.5 665.83 773.0 665.82 773.5 665.81 774.0 665.80 774.5 665.79 775.0 665.78 775.5 665.77 776.0 665.76 776.5 665.76 777.0 665.75 777.5 665.74 778.0 665.73 778.5 665.72 779.0 665.72 779.5 665.71 780.0 665.70 780.5 665.70 781.0 665.69 781.5 665.68 782.0 665.68 782.5 665.67 783.0 665.66 783.5 665.66 784.0 665.65 784.5 665.65 785.0 665.64 785.5 665.64 786.0 665.63 786.5 665.62 787.0 665.62 787.5 665.61 788.0 665.61 788.5 665.61 789.0 665.60 789.5 665.60 790.0 665.59 790.5 665.59 791.0 665.58 791.5 665.58 792.0 665.58 792.5 665.57 793.0 665.57 793.5 665.57 794.0 665.56 794.5 665.56 795.0 665.56 795.5 665.55 796.0 665.55 796.5 665.55 797.0 665.55 797.5 665.54 798.0 665.54 798.5 665.54 799.0 665.54 799.5 665.53 800.0 665.53 800.5 665.53 801.0 665.53 801.5 665.53 802.0 665.52 802.5 665.52 803.0 665.52 803.5 665.52 804.0 665.52 804.5 665.52 805.0 665.52 805.5 665.51 806.0 665.51 806.5 665.51 807.0 665.51 807.5 665.51 808.0 665.51 808.5 665.51 809.0 665.51 809.5 665.51 810.0 665.51 810.5 665.51 811.0 665.51 811.5 665.51 812.0 665.51 812.5 665.51 813.0 665.51 813.5 665.51 814.0 665.51 814.5 665.51 815.0 665.51 815.5 665.51 816.0 665.51 816.5 665.51 817.0 665.51 817.5 665.51 818.0 665.51 818.5 665.51 819.0 665.51 819.5 665.52 820.0 665.52 820.5 665.52 821.0 665.52 821.5 665.52 822.0 665.52 822.5 665.52 823.0 665.53 823.5 665.53 824.0 665.53 824.5 665.53 825.0 665.53 825.5 665.53 826.0 665.54 826.5 665.54 827.0 665.54 827.5 665.54 828.0 665.54 828.5 665.55 829.0 665.55 829.5 665.55 830.0 665.55 830.5 665.56 831.0 665.56 831.5 665.56 832.0 665.56 832.5 665.57 833.0 665.57 833.5 665.57 834.0 665.58 834.5 665.58 835.0 665.58 835.5 665.58 836.0 665.59 836.5 665.59 837.0 665.59 837.5 665.60 838.0 665.60 838.5 665.60 839.0 665.61 839.5 665.61 840.0 665.61 840.5 665.62 841.0 665.62 841.5 665.63 842.0 665.63 842.5 665.63 843.0 665.64 843.5 665.64 844.0 665.65 844.5 665.65 845.0 665.65 845.5 665.66 846.0 665.66 846.5 665.67 847.0 665.67 847.5 665.68 848.0 665.68 848.5 665.69 849.0 665.69 849.5 665.70 850.0 665.70 850.5 665.70 851.0 665.71 851.5 665.72 852.0 665.72 852.5 665.73 853.0 665.73 853.5 665.74 854.0 665.75 854.5 665.75 855.0 665.76 855.5 665.77 856.0 665.78 856.5 665.78 857.0 665.79 857.5 665.80 858.0 665.81 858.5 665.82 859.0 665.82 859.5 665.83 860.0 665.84 860.5 665.85 861.0 665.86 861.5 665.87 862.0 665.88 862.5 665.88 863.0 665.89 863.5 665.90 864.0 665.91 864.5 665.92 865.0 665.93 865.5 665.93 866.0 665.94 866.5 665.95 867.0 665.96 867.5 665.96 868.0 665.97 868.5 665.98 869.0 665.99 869.5 665.99 870.0 666.00 870.5 666.01 871.0 666.01 871.5 666.02 872.0 666.03 872.5 666.03 873.0 666.04 873.5 666.05 874.0 666.05 874.5 666.06 875.0 666.07 875.5 666.07 876.0 666.08 876.5 666.09 877.0 666.09 877.5 666.10 878.0 666.10 878.5 666.11 879.0 666.12 879.5 666.12 880.0 666.13 880.5 666.14 881.0 666.14 881.5 666.15 882.0 666.16 882.5 666.16 883.0 666.17 883.5 666.18 884.0 666.19 884.5 666.19 885.0 666.20 885.5 666.21 886.0 666.21 886.5 666.22 887.0 666.23 887.5 666.23 888.0 666.24 888.5 666.25 889.0 666.25 889.5 666.26 890.0 666.27 890.5 666.27 891.0 666.28 891.5 666.29 892.0 666.30 892.5 666.30 893.0 666.31 893.5 666.32 894.0 666.33 894.5 666.33 895.0 666.34 895.5 666.35 896.0 666.35 896.5 666.36 897.0 666.37 897.5 666.38 898.0 666.38 898.5 666.39 899.0 666.40 899.5 666.41 900.0 666.41 900.5 666.42 901.0 666.43 901.5 666.44 902.0 666.45 902.5 666.45 903.0 666.46 903.5 666.47 904.0 666.48 904.5 666.49 905.0 666.49 905.5 666.50 906.0 666.51 906.5 666.52 907.0 666.53 907.5 666.54 908.0 666.54 908.5 666.55 909.0 666.56 909.5 666.57 910.0 666.58 910.5 666.59 911.0 666.60 911.5 666.60 912.0 666.61 912.5 666.62 913.0 666.63 913.5 666.64 914.0 666.65 914.5 666.66 915.0 666.67 915.5 666.68 916.0 666.69 916.5 666.70 917.0 666.71 917.5 666.72 918.0 666.73 918.5 666.74 919.0 666.75 919.5 666.75 920.0 666.76 920.5 666.77 921.0 666.78 921.5 666.80 922.0 666.81 922.5 666.82 923.0 666.83 923.5 666.84 924.0 666.85 924.5 666.86 925.0 666.87 925.5 666.88 926.0 666.89 926.5 666.90 927.0 666.91 927.5 666.92 928.0 666.93 928.5 666.95 929.0 666.96 929.5 666.97 930.0 666.98 930.5 666.99 931.0 667.00 931.5 667.01 932.0 667.03 932.5 667.04 933.0 667.05 933.5 667.06 934.0 667.08 934.5 667.09 935.0 667.10 935.5 667.11 936.0 667.13 936.5 667.14 937.0 667.15 937.5 667.17 938.0 667.18 938.5 667.19 939.0 667.21 939.5 667.22 940.0 667.24 940.5 667.25 941.0 667.27 941.5 667.29 942.0 667.30 942.5 667.32 943.0 667.33 943.5 667.35 944.0 667.37 944.5 667.38 945.0 667.40 945.5 667.42 946.0 667.43 946.5 667.45 947.0 667.47 947.5 667.49 948.0 667.50 948.5 667.52 949.0 667.54 949.5 667.55 950.0 667.57 950.5 667.59 951.0 667.61 951.5 667.62 952.0 667.64 952.5 667.66 953.0 667.67 953.5 667.69 954.0 667.71 954.5 667.73 955.0 667.74 955.5 667.76 956.0 667.77 956.5 667.79 957.0 667.81 957.5 667.82 958.0 667.84 958.5 667.85 959.0 667.87 959.5 667.89 960.0 667.90 960.5 667.91 961.0 667.93 961.5 667.94 962.0 667.96 962.5 667.97 963.0 667.98 963.5 667.99 964.0 668.01 964.5 668.02 965.0 668.03 965.5 668.04 966.0 668.05 966.5 668.06 967.0 668.07 967.5 668.08 968.0 668.09 968.5 668.10 969.0 668.11 969.5 668.12 970.0 668.12 970.5 668.13 971.0 668.14 971.5 668.15 972.0 668.16 972.5 668.17 973.0 668.17 973.5 668.18 974.0 668.19 974.5 668.20 975.0 668.20 975.5 668.21 976.0 668.22 976.5 668.23 977.0 668.23 977.5 668.24 978.0 668.25 978.5 668.25 979.0 668.26 979.5 668.27 980.0 668.28 980.5 668.28 981.0 668.29 981.5 668.30 982.0 668.31 982.5 668.32 983.0 668.32 983.5 668.33 984.0 668.34 984.5 668.35 985.0 668.36 985.5 668.37 986.0 668.38 986.5 668.39 987.0 668.40 987.5 668.41 988.0 668.42 988.5 668.43 989.0 668.44 989.5 668.45 990.0 668.46 990.5 668.47 991.0 668.49 991.5 668.50 992.0 668.51 992.5 668.53 993.0 668.54 993.5 668.55 994.0 668.57 994.5 668.58 995.0 668.60 995.5 668.62 996.0 668.63 996.5 668.65 997.0 668.66 997.5 668.68 998.0 668.70 998.5 668.71 999.0 668.73 999.5 668.75 1000.0 668.76 1000.5 668.78 1001.0 668.80 1001.5 668.81 1002.0 668.83 1002.5 668.85 1003.0 668.86 1003.5 668.88 1004.0 668.90 1004.5 668.92 1005.0 668.93 1005.5 668.95 1006.0 668.97 1006.5 668.99 1007.0 669.00 1007.5 669.02 1008.0 669.04 1008.5 669.06 1009.0 669.07 1009.5 669.09 1010.0 669.11 1010.5 669.13 1011.0 669.15 1011.5 669.17 1012.0 669.18 1012.5 669.20 1013.0 669.22 1013.5 669.24 1014.0 669.26 1014.5 669.28 1015.0 669.30 1015.5 669.32 1016.0 669.34 1016.5 669.36 1017.0 669.37 1017.5 669.39 1018.0 669.41 1018.5 669.43 1019.0 669.45 1019.5 669.47 1020.0 669.49 1020.5 669.51 1021.0 669.53 1021.5 669.55 1022.0 669.57 1022.5 669.60 1023.0 669.62 1023.5 669.64 1024.0 669.66 1024.5 669.68 1025.0 669.70 1025.5 669.72 1026.0 669.74 1026.5 669.76 1027.0 669.79 1027.5 669.81 1028.0 669.83 1028.5 669.85 1029.0 669.87" fill="none" stroke="#000" stroke-width="2.2" stroke-linejoin="round"/>
<rect x="108.5" y="530.5" width="920.75" height="412.00" fill="none" stroke="#3a3a3a" stroke-width="1.1"/>
<path d="M146.86 942.5V938.40M146.86 530.5V534.60M185.23 942.5V938.40M185.23 530.5V534.60M223.59 942.5V938.40M223.59 530.5V534.60M261.96 942.5V934.30M261.96 530.5V538.70M300.32 942.5V938.40M300.32 530.5V534.60M338.69 942.5V938.40M338.69 530.5V534.60M377.05 942.5V938.40M377.05 530.5V534.60M415.42 942.5V934.30M415.42 530.5V538.70M453.78 942.5V938.40M453.78 530.5V534.60M492.15 942.5V938.40M492.15 530.5V534.60M530.51 942.5V938.40M530.51 530.5V534.60M568.88 942.5V934.30M568.88 530.5V538.70M607.24 942.5V938.40M607.24 530.5V534.60M645.60 942.5V938.40M645.60 530.5V534.60M683.97 942.5V938.40M683.97 530.5V534.60M722.33 942.5V934.30M722.33 530.5V538.70M760.70 942.5V938.40M760.70 530.5V534.60M799.06 942.5V938.40M799.06 530.5V534.60M837.43 942.5V938.40M837.43 530.5V534.60M875.79 942.5V934.30M875.79 530.5V538.70M914.16 942.5V938.40M914.16 530.5V534.60M952.52 942.5V938.40M952.52 530.5V534.60M990.89 942.5V938.40M990.89 530.5V534.60M108.5 667.83H126.90M1029.25 667.83H1010.85" stroke="#3a3a3a" stroke-width="1.1" fill="none"/>
<text x="79.90" y="984.7" font-family="Liberation Serif, serif" stroke="#fff" stroke-width="0.25" font-size="32.8" text-anchor="middle">5</text>
<text x="98.80" y="984.7" font-family="Liberation Serif, serif" stroke="#fff" stroke-width="0.25" font-size="32.8" text-anchor="middle">8</text>
<text x="118.00" y="984.7" font-family="Liberation Serif, serif" stroke="#fff" stroke-width="0.25" font-size="32.8" text-anchor="middle">0</text>
<text x="137.00" y="984.7" font-family="Liberation Serif, serif" stroke="#fff" stroke-width="0.25" font-size="32.8" text-anchor="middle">0</text>
<text x="233.36" y="984.7" font-family="Liberation Serif, serif" stroke="#fff" stroke-width="0.25" font-size="32.8" text-anchor="middle">6</text>
<text x="252.26" y="984.7" font-family="Liberation Serif, serif" stroke="#fff" stroke-width="0.25" font-size="32.8" text-anchor="middle">0</text>
<text x="271.46" y="984.7" font-family="Liberation Serif, serif" stroke="#fff" stroke-width="0.25" font-size="32.8" text-anchor="middle">0</text>
<text x="290.46" y="984.7" font-family="Liberation Serif, serif" stroke="#fff" stroke-width="0.25" font-size="32.8" text-anchor="middle">0</text>
<text x="386.82" y="984.7" font-family="Liberation Serif, serif" stroke="#fff" stroke-width="0.25" font-size="32.8" text-anchor="middle">6</text>
<text x="405.72" y="984.7" font-family="Liberation Serif, serif" stroke="#fff" stroke-width="0.25" font-size="32.8" text-anchor="middle">2</text>
<text x="424.92" y="984.7" font-family="Liberation Serif, serif" stroke="#fff" stroke-width="0.25" font-size="32.8" text-anchor="middle">0</text>
<text x="443.92" y="984.7" font-family="Liberation Serif, serif" stroke="#fff" stroke-width="0.25" font-size="32.8" text-anchor="middle">0</text>
<text x="540.27" y="984.7" font-family="Liberation Serif, serif" stroke="#fff" stroke-width="0.25" font-size="32.8" text-anchor="middle">6</text>
<text x="559.17" y="984.7" font-family="Liberation Serif, serif" stroke="#fff" stroke-width="0.25" font-size="32.8" text-anchor="middle">4</text>
<text x="578.38" y="984.7" font-family="Liberation Serif, serif" stroke="#fff" stroke-width="0.25" font-size="32.8" text-anchor="middle">0</text>
<text x="597.38" y="984.7" font-family="Liberation Serif, serif" stroke="#fff" stroke-width="0.25" font-size="32.8" text-anchor="middle">0</text>
<text x="693.73" y="984.7" font-family="Liberation Serif, serif" stroke="#fff" stroke-width="0.25" font-size="32.8" text-anchor="middle">6</text>
<text x="712.63" y="984.7" font-family="Liberation Serif, serif" stroke="#fff" stroke-width="0.25" font-size="32.8" text-anchor="middle">6</text>
<text x="731.83" y="984.7" font-family="Liberation Serif, serif" stroke="#fff" stroke-width="0.25" font-size="32.8" text-anchor="middle">0</text>
<text x="750.83" y="984.7" font-family="Liberation Serif, serif" stroke="#fff" stroke-width="0.25" font-size="32.8" text-anchor="middle">0</text>
<text x="847.19" y="984.7" font-family="Liberation Serif, serif" stroke="#fff" stroke-width="0.25" font-size="32.8" text-anchor="middle">6</text>
<text x="866.09" y="984.7" font-family="Liberation Serif, serif" stroke="#fff" stroke-width="0.25" font-size="32.8" text-anchor="middle">8</text>
<text x="885.29" y="984.7" font-family="Liberation Serif, serif" stroke="#fff" stroke-width="0.25" font-size="32.8" text-anchor="middle">0</text>
<text x="904.29" y="984.7" font-family="Liberation Serif, serif" stroke="#fff" stroke-width="0.25" font-size="32.8" text-anchor="middle">0</text>
<text x="1000.65" y="984.7" font-family="Liberation Serif, serif" stroke="#fff" stroke-width="0.25" font-size="32.8" text-anchor="middle">7</text>
<text x="1019.55" y="984.7" font-family="Liberation Serif, serif" stroke="#fff" stroke-width="0.25" font-size="32.8" text-anchor="middle">0</text>
<text x="1038.75" y="984.7" font-family="Liberation Serif, serif" stroke="#fff" stroke-width="0.25" font-size="32.8" text-anchor="middle">0</text>
<text x="1057.75" y="984.7" font-family="Liberation Serif, serif" stroke="#fff" stroke-width="0.25" font-size="32.8" text-anchor="middle">0</text>
<text x="52.95" y="678.73" font-family="Liberation Serif, serif" stroke="#fff" stroke-width="0.25" font-size="31.5" textLength="13.92" lengthAdjust="spacingAndGlyphs">1</text>
<text x="71.04" y="678.73" font-family="Liberation Serif, serif" stroke="#fff" stroke-width="0.25" font-size="31.5" textLength="7.83" lengthAdjust="spacingAndGlyphs">.</text>
<text x="81.64" y="678.73" font-family="Liberation Serif, serif" stroke="#fff" stroke-width="0.25" font-size="31.5" textLength="16.52" lengthAdjust="spacingAndGlyphs">0</text>
<text x="51.32" y="942.50" font-family="Liberation Serif, serif" stroke="#fff" stroke-width="0.25" font-size="31.5" textLength="18.17" lengthAdjust="spacingAndGlyphs">0</text>
<text x="70.82" y="942.50" font-family="Liberation Serif, serif" stroke="#fff" stroke-width="0.25" font-size="31.5" textLength="8.25" lengthAdjust="spacingAndGlyphs">.</text>
<text x="81.32" y="942.50" font-family="Liberation Serif, serif" stroke="#fff" stroke-width="0.25" font-size="31.5" textLength="17.20" lengthAdjust="spacingAndGlyphs">6</text>
<g transform="translate(23.2,0) rotate(-90)" font-family="Liberation Serif, serif" stroke="#fff" stroke-width="0.25" font-size="31.5"><text x="-844.28" y="0" textLength="19.17" lengthAdjust="spacingAndGlyphs">R</text><text x="-823.99" y="0" textLength="18.59" lengthAdjust="spacingAndGlyphs">e</text><text x="-804.21" y="0" textLength="9.11" lengthAdjust="spacingAndGlyphs">l</text><text x="-793.18" y="0" textLength="16.85" lengthAdjust="spacingAndGlyphs">a</text><text x="-774.56" y="0" textLength="14.62" lengthAdjust="spacingAndGlyphs">t</text><text x="-758.59" y="0" textLength="8.41" lengthAdjust="spacingAndGlyphs">i</text><text x="-748.05" y="0" textLength="14.50" lengthAdjust="spacingAndGlyphs">v</text><text x="-732.40" y="0" textLength="18.71" lengthAdjust="spacingAndGlyphs">e</text><text x="-699.53" y="0" textLength="18.91" lengthAdjust="spacingAndGlyphs">F</text><text x="-678.01" y="0" textLength="7.83" lengthAdjust="spacingAndGlyphs">l</text><text x="-669.50" y="0" textLength="17.14" lengthAdjust="spacingAndGlyphs">u</text><text x="-650.63" y="0" textLength="21.50" lengthAdjust="spacingAndGlyphs">x</text></g>
<path d="M135.3 318.9V352.9M176.5 318.9V352.9M238.8 318.9V352.9M340.0 318.9V352.9M788.5 318.9V352.9M922.5 318.9V352.9M177.3 839.3V873.7" stroke="#3a3a3a" stroke-width="1" fill="none"/>
<text x="131.13" y="389" font-family="Liberation Serif, serif" stroke="#fff" stroke-width="0.7" font-size="30.2" textLength="19.25" lengthAdjust="spacingAndGlyphs">H</text>
<text x="152.10" y="389" font-family="Liberation Serif, serif" stroke="#fff" stroke-width="0.7" font-size="30.2" textLength="15.58" lengthAdjust="spacingAndGlyphs">9</text>
<text x="173.07" y="389" font-family="Liberation Serif, serif" stroke="#fff" stroke-width="0.7" font-size="30.2" textLength="18.38" lengthAdjust="spacingAndGlyphs">H</text>
<text x="193.03" y="389" font-family="Liberation Serif, serif" stroke="#fff" stroke-width="0.7" font-size="30.2" textLength="15.34" lengthAdjust="spacingAndGlyphs">8</text>
<text x="234.95" y="389" font-family="Liberation Serif, serif" stroke="#fff" stroke-width="0.7" font-size="30.2" textLength="18.81" lengthAdjust="spacingAndGlyphs">H</text>
<text x="255.67" y="389" font-family="Liberation Serif, serif" stroke="#fff" stroke-width="0.7" font-style="italic" font-size="30.2" textLength="9.84" lengthAdjust="spacingAndGlyphs">ϵ</text>
<text x="336.15" y="389" font-family="Liberation Serif, serif" stroke="#fff" stroke-width="0.7" font-size="30.2" textLength="18.81" lengthAdjust="spacingAndGlyphs">H</text>
<text x="356.30" y="389" font-family="Liberation Serif, serif" stroke="#fff" stroke-width="0.7" font-style="italic" font-size="30.2" textLength="12.64" lengthAdjust="spacingAndGlyphs">δ</text>
<text x="519.21" y="389" font-family="Liberation Serif, serif" stroke="#fff" stroke-width="0.7" font-size="30.2" textLength="19.68" lengthAdjust="spacingAndGlyphs">H</text>
<text x="539.53" y="389" font-family="Liberation Serif, serif" stroke="#fff" stroke-width="0.7" font-style="italic" font-size="30.2" textLength="14.56" lengthAdjust="spacingAndGlyphs">γ</text>
<text x="775.43" y="389" font-family="Liberation Serif, serif" stroke="#fff" stroke-width="0.7" font-size="30.2" textLength="19.25" lengthAdjust="spacingAndGlyphs">H</text>
<text x="796.19" y="389" font-family="Liberation Serif, serif" stroke="#fff" stroke-width="0.7" font-size="30.2" textLength="14.87" lengthAdjust="spacingAndGlyphs">e</text>
<text x="825.72" y="389" font-family="Liberation Serif, serif" stroke="#fff" stroke-width="0.7" font-size="30.2" textLength="9.03" lengthAdjust="spacingAndGlyphs">I</text>
<text x="834.58" y="389" font-family="Liberation Serif, serif" stroke="#fff" stroke-width="0.7" font-size="30.2" textLength="9.42" lengthAdjust="spacingAndGlyphs">I</text>
<text x="918.13" y="389" font-family="Liberation Serif, serif" stroke="#fff" stroke-width="0.7" font-size="30.2" textLength="19.25" lengthAdjust="spacingAndGlyphs">H</text>
<text x="939.72" y="389" font-family="Liberation Serif, serif" stroke="#fff" stroke-width="0.7" font-style="italic" font-size="30.2" textLength="12.92" lengthAdjust="spacingAndGlyphs">β</text>
<text x="167.28" y="909" font-family="Liberation Serif, serif" stroke="#fff" stroke-width="0.7" font-size="30.2" textLength="18.10" lengthAdjust="spacingAndGlyphs">N</text>
<text x="186.90" y="909" font-family="Liberation Serif, serif" stroke="#fff" stroke-width="0.7" font-size="30.2" textLength="15.17" lengthAdjust="spacingAndGlyphs">a</text>
<text x="217.47" y="909" font-family="Liberation Serif, serif" stroke="#fff" stroke-width="0.7" font-size="30.2" textLength="8.52" lengthAdjust="spacingAndGlyphs">I</text>
<text x="691.23" y="909" font-family="Liberation Serif, serif" stroke="#fff" stroke-width="0.7" font-size="30.2" textLength="19.25" lengthAdjust="spacingAndGlyphs">H</text>
<text x="712.13" y="909" font-family="Liberation Serif, serif" stroke="#fff" stroke-width="0.7" font-style="italic" font-size="30.2" textLength="15.28" lengthAdjust="spacingAndGlyphs">α</text>
<g stroke="#222" stroke-width="1.2" fill="none"><circle cx="939.6" cy="898.6" r="9.6"/><path d="M939.6 889V908.2M930 898.6H949.2"/></g>
<g stroke="#222" stroke-width="1.35" fill="none" stroke-linecap="round" stroke-linejoin="round"><ellipse cx="960.85" cy="898.6" rx="7.2" ry="9.0"/><path d="M971.9 905.6C972 903.9 973.6 903 975.5 903C977.6 903 979.1 904.3 979.1 906C979.1 907.9 977.2 909.4 975.1 911.2L971.6 914.6H979.8"/></g>
<g font-family="Liberation Serif, serif" stroke="#fff" stroke-width="0.25" font-size="31"><text x="449.18" y="1021.8" textLength="20.66" lengthAdjust="spacingAndGlyphs">W</text><text x="471.83" y="1021.8" textLength="16.07" lengthAdjust="spacingAndGlyphs">a</text><text x="490.50" y="1021.8" textLength="15.10" lengthAdjust="spacingAndGlyphs">v</text><text x="507.79" y="1021.8" textLength="16.07" lengthAdjust="spacingAndGlyphs">e</text><text x="525.53" y="1021.8" textLength="9.23" lengthAdjust="spacingAndGlyphs">l</text><text x="536.89" y="1021.8" textLength="16.07" lengthAdjust="spacingAndGlyphs">e</text><text x="555.03" y="1021.8" textLength="19.05" lengthAdjust="spacingAndGlyphs">n</text><text x="576.33" y="1021.8" textLength="15.98" lengthAdjust="spacingAndGlyphs">g</text><text x="594.32" y="1021.8" textLength="10.91" lengthAdjust="spacingAndGlyphs">t</text><text x="610.75" y="1021.8" textLength="17.82" lengthAdjust="spacingAndGlyphs">h</text><text x="646.27" y="1021.8" textLength="9.34" lengthAdjust="spacingAndGlyphs">(</text><text x="659.97" y="1021.8" textLength="16.80" lengthAdjust="spacingAndGlyphs">Å</text><text x="678.61" y="1021.8" textLength="10.24" lengthAdjust="spacingAndGlyphs">)</text></g>
</svg></body></html>
